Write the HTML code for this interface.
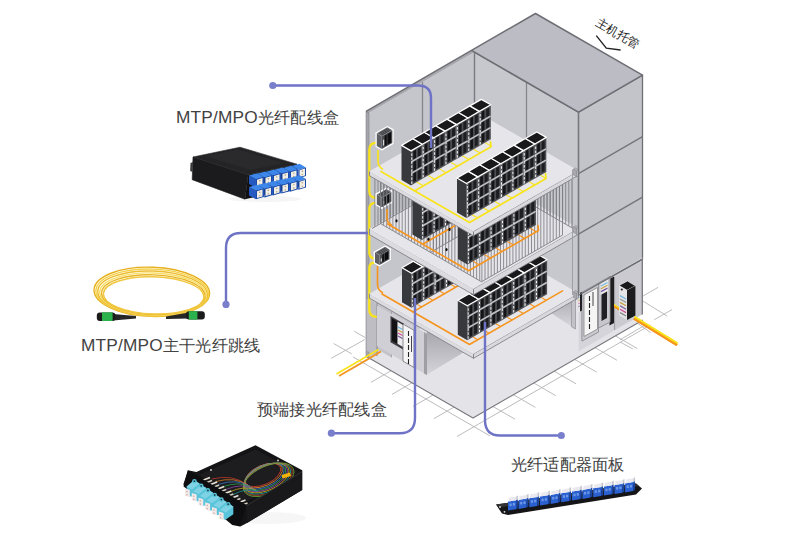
<!DOCTYPE html>
<html><head><meta charset="utf-8"><style>
html,body{margin:0;padding:0;background:#fff;}
body{width:800px;height:550px;position:relative;overflow:hidden;font-family:"Liberation Sans",sans-serif;}
svg{position:absolute;left:0;top:0;}
.lb{position:absolute;font-size:16px;color:#424242;white-space:nowrap;line-height:18px;transform:scaleX(1.015);transform-origin:0 0;}
.lt{font-size:17px;letter-spacing:0.2px;}
.lb2{position:absolute;font-size:12px;color:#1c1c1c;white-space:nowrap;line-height:12px;transform:rotate(30deg);transform-origin:0 0;}
</style></head><body>
<svg width="800" height="550" viewBox="0 0 800 550">
<line x1="353" y1="356.9" x2="490" y2="435.9" stroke="#b4b4b8" stroke-width="0.9" />
<line x1="650.5" y1="324.9" x2="457" y2="436.5" stroke="#b4b4b8" stroke-width="0.9" />
<line x1="370" y1="358.6" x2="350" y2="370.1" stroke="#b4b4b8" stroke-width="0.9" />
<line x1="391" y1="370.7" x2="371" y2="382.3" stroke="#b4b4b8" stroke-width="0.9" />
<line x1="412" y1="382.8" x2="392" y2="394.4" stroke="#b4b4b8" stroke-width="0.9" />
<line x1="433" y1="395" x2="413" y2="406.5" stroke="#b4b4b8" stroke-width="0.9" />
<line x1="454" y1="407.1" x2="434" y2="418.6" stroke="#b4b4b8" stroke-width="0.9" />
<line x1="493" y1="406.5" x2="515" y2="419.2" stroke="#b4b4b8" stroke-width="0.9" />
<line x1="513.4" y1="394.7" x2="535.4" y2="407.4" stroke="#b4b4b8" stroke-width="0.9" />
<line x1="533.8" y1="383" x2="555.8" y2="395.7" stroke="#b4b4b8" stroke-width="0.9" />
<line x1="554.2" y1="371.2" x2="576.2" y2="383.9" stroke="#b4b4b8" stroke-width="0.9" />
<line x1="574.6" y1="359.4" x2="596.6" y2="372.1" stroke="#b4b4b8" stroke-width="0.9" />
<line x1="595" y1="347.6" x2="617" y2="360.3" stroke="#b4b4b8" stroke-width="0.9" />
<line x1="615.4" y1="335.9" x2="637.4" y2="348.6" stroke="#b4b4b8" stroke-width="0.9" />
<line x1="333.7" y1="343.5" x2="351.7" y2="353.9" stroke="#b4b4b8" stroke-width="0.9" />
<line x1="331.3" y1="358.3" x2="364.8" y2="339.5" stroke="#b4b4b8" stroke-width="0.9" />
<line x1="354.2" y1="331.3" x2="365.6" y2="337.8" stroke="#b4b4b8" stroke-width="0.9" />
<line x1="643" y1="296" x2="658" y2="287.4" stroke="#b4b4b8" stroke-width="0.9" />
<line x1="642.5" y1="300.8" x2="667.3" y2="316.2" stroke="#b4b4b8" stroke-width="0.9" />
<line x1="654.3" y1="319.7" x2="672" y2="309.6" stroke="#b4b4b8" stroke-width="0.9" />
<line x1="620" y1="339.8" x2="646" y2="324.5" stroke="#b4b4b8" stroke-width="0.9" />
<line x1="637.7" y1="323.3" x2="650.7" y2="332.7" stroke="#b4b4b8" stroke-width="0.9" />
<line x1="620" y1="342" x2="633" y2="349" stroke="#b4b4b8" stroke-width="0.9" />
<polygon points="535.5,258.5 642.5,320.2 473,418 366,356.3" fill="#e4e4e8" />
<polyline points="366,356.3 473,418 642.5,320.2" fill="none" stroke="#77777d" stroke-width="1.1" stroke-linejoin="round" stroke-linecap="round" />
<polygon points="474.5,297.2 369,358 369,113 474.5,52.2" fill="#c5c5cc" />
<polygon points="366,356.3 369,358 369,113 366,111.3" fill="#a4a4aa" stroke="#85858b" stroke-width="0.6" stroke-linejoin="round" />
<polygon points="471.5,50.4 474.5,52.2 369,113 366,111.3" fill="#a8a8ae" />
<line x1="366" y1="111.3" x2="369" y2="113" stroke="#85858b" stroke-width="1" />
<line x1="366" y1="111.3" x2="471.5" y2="50.4" stroke="#6e6e75" stroke-width="1.5" />
<line x1="422.5" y1="321.2" x2="422.5" y2="82.2" stroke="#85858c" stroke-width="1.3" />
<polygon points="474.5,291.2 578.5,351.2 578.5,112.2 474.5,52.2" fill="#c7c7ce" />
<line x1="474.5" y1="291.2" x2="474.5" y2="52.2" stroke="#7a7a81" stroke-width="1.4" />
<line x1="526.5" y1="321.2" x2="526.5" y2="82.2" stroke="#85858c" stroke-width="1.3" />
<line x1="474.5" y1="52.2" x2="578.5" y2="112.2" stroke="#6e6e75" stroke-width="1.5" />
<polygon points="642.5,259.2 578.5,296.2 578.5,112.2 642.5,75.2" fill="#c3c3ca" stroke="#6e6e75" stroke-width="1.3" stroke-linejoin="round" />
<line x1="642.5" y1="136.7" x2="578.5" y2="173.7" stroke="#75757c" stroke-width="1.4" />
<line x1="642.5" y1="197.2" x2="578.5" y2="234.2" stroke="#75757c" stroke-width="1.4" />
<polygon points="535.5,13.5 642.5,75.2 578.5,112.2 471.5,50.4" fill="#bcbcc4" stroke="#6e6e75" stroke-width="1.5" stroke-linejoin="round" />
<defs><linearGradient id="shd" x1="0" y1="0" x2="0" y2="1"><stop offset="0" stop-color="#a6a6ac"/><stop offset="1" stop-color="#d4d4da"/></linearGradient><linearGradient id="shd2" x1="0" y1="0" x2="0" y2="1"><stop offset="0" stop-color="#b0b0b6"/><stop offset="1" stop-color="#d6d6dc"/></linearGradient></defs>
<polygon points="577.3,295 642.3,257.5 642.3,314.5 577.3,352" fill="#d4d4da" />
<polygon points="614,277 642.3,260 642.3,314 614,330" fill="#cacad0" />
<line x1="642.3" y1="259" x2="642.3" y2="314.5" stroke="#77777d" stroke-width="1.3" />
<line x1="614.5" y1="277" x2="614.5" y2="330" stroke="#a0a0a6" stroke-width="1.2" />
<line x1="609" y1="303" x2="622" y2="311" stroke="#f7941d" stroke-width="2.4" />
<line x1="609" y1="301.5" x2="622" y2="309.5" stroke="#f8e31c" stroke-width="1.4" />
<polygon points="609.5,279 614,276.5 614,323 609.5,325.5" fill="#1e1e20" />
<polygon points="619,285.5 627.5,281 635.4,285.8 627,290.3" fill="#19191b" stroke="#fff" stroke-width="0.6" stroke-linejoin="round" />
<polygon points="619,285.5 627,290.3 627,320 619,315.2" fill="#e4e4e6" />
<polygon points="627,290.3 635.4,285.8 635.4,315.4 627,320" fill="#1c1c1e" />
<line x1="620" y1="295.6" x2="626" y2="299" stroke="#6fb6e0" stroke-width="1.3" />
<line x1="620" y1="299" x2="626" y2="302.4" stroke="#9a9a9a" stroke-width="1.3" />
<line x1="620" y1="302.4" x2="626" y2="305.8" stroke="#c8a040" stroke-width="1.3" />
<line x1="620" y1="305.8" x2="626" y2="309.2" stroke="#7a5aa0" stroke-width="1.3" />
<line x1="620" y1="309.2" x2="626" y2="312.6" stroke="#d05090" stroke-width="1.3" />
<line x1="620" y1="312.6" x2="626" y2="316" stroke="#888" stroke-width="1.3" />
<circle cx="621.8" cy="289.5" r="1.1" fill="#222"/>
<polygon points="598.5,283 610,276.5 610,322 598.5,328" fill="#c6c6cc" stroke="#85858b" stroke-width="0.6" stroke-linejoin="round" />
<polygon points="601.5,284 607,281 607,318 601.5,321" fill="#202024" />
<polygon points="600.5,283.5 608,279.5 608,291 600.5,295" fill="#e8e8ea" />
<line x1="601" y1="286" x2="607.5" y2="282.5" stroke="#6fb6e0" stroke-width="1.2" />
<line x1="601" y1="288.8" x2="607.5" y2="285.3" stroke="#c8a040" stroke-width="1.2" />
<line x1="601" y1="291.6" x2="607.5" y2="288.1" stroke="#7a5aa0" stroke-width="1.2" />
<polygon points="582,292.3 598.5,283 598.5,332 582,341" fill="#c9c9cf" stroke="#85858b" stroke-width="0.6" stroke-linejoin="round" />
<polygon points="584,295 597.5,287.5 597.5,329 584,336.5" fill="#f5f5f5" stroke="#777" stroke-width="0.7" stroke-linejoin="round" />
<line x1="589.5" y1="296" x2="589.5" y2="301" stroke="#222" stroke-width="1.1" />
<line x1="589.5" y1="303" x2="589.5" y2="308" stroke="#222" stroke-width="1.1" />
<line x1="589.5" y1="310" x2="589.5" y2="315" stroke="#222" stroke-width="1.1" />
<line x1="589.5" y1="317" x2="589.5" y2="322" stroke="#222" stroke-width="1.1" />
<line x1="589.5" y1="324" x2="589.5" y2="329" stroke="#222" stroke-width="1.1" />
<line x1="593" y1="292" x2="593" y2="306" stroke="#333" stroke-width="0.9" />
<polygon points="571.5,298 582,292 582,310.5 571.5,316.5" fill="#e6e6e8" />
<polygon points="580,293 582,292 582,310.5 580,311.5" fill="#202024" />
<line x1="572.5" y1="301" x2="579.5" y2="297" stroke="#6fb6e0" stroke-width="1.3" />
<line x1="572.5" y1="304" x2="579.5" y2="300" stroke="#c8a040" stroke-width="1.3" />
<line x1="572.5" y1="307" x2="579.5" y2="303" stroke="#d05090" stroke-width="1.3" />
<line x1="572.5" y1="310" x2="579.5" y2="306" stroke="#7a5aa0" stroke-width="1.3" />
<polygon points="531,324.5 578.5,352 578.5,297" fill="#e4e4e8" />
<polygon points="550.7,312.8 571.5,300.8 571.5,326.5" fill="url(#shd2)" />
<polygon points="571.5,292 575.5,294.3 575.5,329 571.5,326.7" fill="#c2c2c8" stroke="#85858b" stroke-width="0.6" stroke-linejoin="round" />
<line x1="634" y1="318.5" x2="677" y2="345" stroke="#f7941d" stroke-width="2.6" />
<line x1="634.5" y1="316.8" x2="677.5" y2="343.3" stroke="#f8e31c" stroke-width="1.6" />
<line x1="577.3" y1="296" x2="642.3" y2="259.2" stroke="#6e6e75" stroke-width="1.3" />
<polygon points="366.8,299 377,305 377,356 366.8,350.5" fill="#b9b9bf" />
<polygon points="391.5,313 427,333.6 427,375 391.5,354.5" fill="#d3d3d9" />
<polygon points="377,303 391.5,311.4 391.5,357.4 377,349" fill="#c2c2c8" />
<line x1="377" y1="303" x2="377" y2="349" stroke="#8e8e94" stroke-width="1" />
<line x1="391.5" y1="311.4" x2="391.5" y2="357.4" stroke="#9a9aa0" stroke-width="0.8" />
<polygon points="424,332 427,333.6 427,375 424,373.3" fill="#a4a4aa" />
<polygon points="427,331 463,352.5 427,374.5" fill="url(#shd)" />
<polygon points="598.5,283 610,276.5 610,322 598.5,328" fill="#c6c6cc" stroke="#85858b" stroke-width="0.6" stroke-linejoin="round" />
<polygon points="601.5,284 607,281 607,318 601.5,321" fill="#202024" />
<polygon points="600.5,283.5 608,279.5 608,291 600.5,295" fill="#e8e8ea" />
<line x1="601" y1="286" x2="607.5" y2="282.5" stroke="#6fb6e0" stroke-width="1.2" />
<line x1="601" y1="288.8" x2="607.5" y2="285.3" stroke="#c8a040" stroke-width="1.2" />
<line x1="601" y1="291.6" x2="607.5" y2="288.1" stroke="#7a5aa0" stroke-width="1.2" />
<polygon points="582,292.3 598.5,283 598.5,332 582,341" fill="#c9c9cf" stroke="#85858b" stroke-width="0.6" stroke-linejoin="round" />
<polygon points="584,295 597.5,287.5 597.5,329 584,336.5" fill="#f5f5f5" stroke="#777" stroke-width="0.7" stroke-linejoin="round" />
<line x1="589.5" y1="296" x2="589.5" y2="301" stroke="#222" stroke-width="1.1" />
<line x1="589.5" y1="303" x2="589.5" y2="308" stroke="#222" stroke-width="1.1" />
<line x1="589.5" y1="310" x2="589.5" y2="315" stroke="#222" stroke-width="1.1" />
<line x1="589.5" y1="317" x2="589.5" y2="322" stroke="#222" stroke-width="1.1" />
<line x1="589.5" y1="324" x2="589.5" y2="329" stroke="#222" stroke-width="1.1" />
<line x1="593" y1="292" x2="593" y2="306" stroke="#333" stroke-width="0.9" />
<polygon points="571.5,298 582,292 582,310.5 571.5,316.5" fill="#e6e6e8" />
<polygon points="580,293 582,292 582,310.5 580,311.5" fill="#202024" />
<line x1="572.5" y1="301" x2="579.5" y2="297" stroke="#6fb6e0" stroke-width="1.3" />
<line x1="572.5" y1="304" x2="579.5" y2="300" stroke="#c8a040" stroke-width="1.3" />
<line x1="572.5" y1="307" x2="579.5" y2="303" stroke="#d05090" stroke-width="1.3" />
<line x1="572.5" y1="310" x2="579.5" y2="306" stroke="#7a5aa0" stroke-width="1.3" />
<polygon points="531,324.5 578.5,352 578.5,297" fill="#e4e4e8" />
<polygon points="550.7,312.8 571.5,300.8 571.5,326.5" fill="url(#shd2)" />
<polygon points="571.5,292 575.5,294.3 575.5,329 571.5,326.7" fill="#c2c2c8" stroke="#85858b" stroke-width="0.6" stroke-linejoin="round" />
<line x1="634" y1="318.5" x2="677" y2="345" stroke="#f7941d" stroke-width="2.6" />
<line x1="634.5" y1="316.8" x2="677.5" y2="343.3" stroke="#f8e31c" stroke-width="1.6" />
<line x1="577.3" y1="296" x2="642.3" y2="259.2" stroke="#6e6e75" stroke-width="1.3" />
<polygon points="366.8,299 377,305 377,356 366.8,350.5" fill="#bdbdc3" />
<line x1="377" y1="305" x2="377" y2="356" stroke="#8e8e94" stroke-width="1" />
<polygon points="377,305.5 427,334.5 427,375 377,346" fill="#cfcfd5" />
<polygon points="424,332.8 427,334.5 427,375 424,373.3" fill="#9e9ea4" />
<polygon points="427,331 463,352.5 427,374.5" fill="url(#shd)" />
<polygon points="390.5,316 404,323.8 404,350 390.5,342.2" fill="#3a3a3e" />
<polygon points="392,318.5 397.5,321.7 397.5,344 392,340.8" fill="#121214" />
<polygon points="397.5,321.7 403,324.9 403,347 397.5,343.8" fill="#ececee" />
<line x1="398" y1="327" x2="402.5" y2="329.6" stroke="#6fb6e0" stroke-width="1.2" />
<line x1="398" y1="330" x2="402.5" y2="332.6" stroke="#c8a040" stroke-width="1.2" />
<line x1="398" y1="333" x2="402.5" y2="335.6" stroke="#d05090" stroke-width="1.2" />
<line x1="398" y1="336" x2="402.5" y2="338.6" stroke="#7a5aa0" stroke-width="1.2" />
<polygon points="403,324 414,330.3 414,367.5 403,361.2" fill="#f5f5f5" stroke="#707076" stroke-width="0.8" stroke-linejoin="round" />
<line x1="408.5" y1="331" x2="408.5" y2="336" stroke="#222" stroke-width="1.1" />
<line x1="408.5" y1="338" x2="408.5" y2="343" stroke="#222" stroke-width="1.1" />
<line x1="408.5" y1="345" x2="408.5" y2="350" stroke="#222" stroke-width="1.1" />
<line x1="408.5" y1="352" x2="408.5" y2="357" stroke="#222" stroke-width="1.1" />
<line x1="408.5" y1="359" x2="408.5" y2="364" stroke="#222" stroke-width="1.1" />
<line x1="411.5" y1="336" x2="411.5" y2="352" stroke="#333" stroke-width="0.9" />
<line x1="381" y1="351.5" x2="339" y2="376" stroke="#f7941d" stroke-width="1.8" />
<line x1="378.5" y1="349.5" x2="336.5" y2="374" stroke="#f8e31c" stroke-width="1.8" />
<path d="M377,142.7 Q369.3,142.7 369.3,150 V191 Q369.3,198 376.8,198 M376.8,202.7 Q369.3,202.7 369.3,209 V252 Q369.3,258.6 375.5,258.6 M375.5,262.5 Q369.3,262.5 369.3,268 V310 Q369.3,316.8 376.8,316.8" fill="none" stroke="#f8e31c" stroke-width="2.3" />
<polygon points="578.5,297.7 473.5,358.3 473.5,353.8 578.5,293.2" fill="#d9d9dd" stroke="#77777d" stroke-width="0.8" stroke-linejoin="round" />
<polygon points="369.5,298.2 473.5,358.3 473.5,353.8 369.5,293.7" fill="#dcdce0" stroke="#77777d" stroke-width="0.8" stroke-linejoin="round" />
<polygon points="474.5,233.2 578.5,293.2 473.5,353.8 369.5,293.7" fill="#e6e6ea" />
<line x1="369.5" y1="293.7" x2="473.5" y2="353.8" stroke="#f4f4f6" stroke-width="0.8" />
<polygon points="389.5,259.2 379.5,265 379.5,255.2 389.5,249.4" fill="#ffffff" stroke="#ffffff" stroke-width="2.6" stroke-linejoin="round" />
<polygon points="375,262.4 379.5,265 379.5,255.2 375,252.6" fill="#ffffff" stroke="#ffffff" stroke-width="2.6" stroke-linejoin="round" />
<polygon points="385,246.8 389.5,249.4 379.5,255.2 375,252.6" fill="#ffffff" stroke="#ffffff" stroke-width="2.6" stroke-linejoin="round" />
<polygon points="389.5,259.2 379.5,265 379.5,255.2 389.5,249.4" fill="#4d4e53" />
<polygon points="375,262.4 379.5,265 379.5,255.2 375,252.6" fill="#5d5e63" />
<polygon points="385,246.8 389.5,249.4 379.5,255.2 375,252.6" fill="#6e6f74" />
<line x1="385.3" y1="248.1" x2="377.3" y2="252.7" stroke="#2a2a2e" stroke-width="0.7" />
<line x1="386.7" y1="248.9" x2="378.7" y2="253.6" stroke="#2a2a2e" stroke-width="0.7" />
<line x1="388.1" y1="249.7" x2="380.1" y2="254.4" stroke="#2a2a2e" stroke-width="0.7" />
<polygon points="388.3,258.7 384.7,260.8 384.7,253.4 388.3,251.3" fill="#0c0c0e" />
<polygon points="383.9,261.2 382.3,262.2 382.3,254.8 383.9,253.8" fill="#0c0c0e" />
<line x1="381.3" y1="261.4" x2="381.3" y2="258.6" stroke="#e0e0e0" stroke-width="1.1" />
<path d="M377.5,266 V284 Q377.5,290 383,293" fill="none" stroke="#f7941d" stroke-width="1.6" />
<polyline points="382,294 469.5,344.5 562.5,290.9" fill="none" stroke="#f7941d" stroke-width="1.6" stroke-linejoin="round" stroke-linecap="round" />
<polyline points="413,311.9 466,281.3" fill="none" stroke="#f7941d" stroke-width="1.6" stroke-linejoin="round" stroke-linecap="round" />
<line x1="417.2" y1="304.4" x2="421.6" y2="307" stroke="#f7941d" stroke-width="1.1" />
<line x1="428.6" y1="297.8" x2="433" y2="300.4" stroke="#f7941d" stroke-width="1.1" />
<line x1="440" y1="291.3" x2="444.4" y2="293.8" stroke="#f7941d" stroke-width="1.1" />
<line x1="451.4" y1="284.7" x2="455.8" y2="287.2" stroke="#f7941d" stroke-width="1.1" />
<line x1="473" y1="337" x2="477.8" y2="339.7" stroke="#f7941d" stroke-width="1.1" />
<line x1="484.4" y1="330.4" x2="489.2" y2="333.2" stroke="#f7941d" stroke-width="1.1" />
<line x1="495.8" y1="323.8" x2="500.6" y2="326.6" stroke="#f7941d" stroke-width="1.1" />
<line x1="507.2" y1="317.2" x2="512" y2="320" stroke="#f7941d" stroke-width="1.1" />
<line x1="518.6" y1="310.7" x2="523.4" y2="313.4" stroke="#f7941d" stroke-width="1.1" />
<line x1="530" y1="304.1" x2="534.8" y2="306.8" stroke="#f7941d" stroke-width="1.1" />
<line x1="541.4" y1="297.5" x2="546.2" y2="300.3" stroke="#f7941d" stroke-width="1.1" />
<polygon points="422.9,301.1 411.5,307.7 411.5,273.2 422.9,266.6" fill="#4c4d52" />
<polygon points="416.5,303.1 413.8,304.7 413.8,295.7 416.5,294.1" fill="#151518" />
<polygon points="421.3,300.3 418.3,302 418.3,293.1 421.3,291.4" fill="#1e1e21" />
<polygon points="416.5,291.7 413.8,293.3 413.8,284.3 416.5,282.7" fill="#151518" />
<polygon points="421.3,288.9 418.3,290.7 418.3,281.7 421.3,280" fill="#1e1e21" />
<polygon points="416.5,280.3 413.8,281.9 413.8,273.6 416.5,272" fill="#151518" />
<polygon points="421.3,277.6 418.3,279.3 418.3,271 421.3,269.3" fill="#1e1e21" />
<line x1="422.6" y1="289.4" x2="411.8" y2="295.6" stroke="#c2c3c8" stroke-width="1.5" />
<line x1="422.6" y1="278" x2="411.8" y2="284.2" stroke="#c2c3c8" stroke-width="1.5" />
<line x1="412.3" y1="306.2" x2="412.3" y2="273.7" stroke="#f6f6f6" stroke-width="1.0" stroke-dasharray="2.5,1.5"/>
<polygon points="402,302.2 411.5,307.7 411.5,273.2 402,267.7" fill="#38393d" />
<polygon points="413.4,261.1 422.9,266.6 411.5,273.2 402,267.7" fill="#19191b" stroke="#ffffff" stroke-width="1.3" stroke-linejoin="round" />
<polygon points="434.3,294.6 422.9,301.1 422.9,266.6 434.3,260.1" fill="#4c4d52" />
<polygon points="427.9,296.5 425.2,298.1 425.2,289.1 427.9,287.5" fill="#151518" />
<polygon points="432.7,293.7 429.7,295.5 429.7,286.5 432.7,284.8" fill="#1e1e21" />
<polygon points="427.9,285.1 425.2,286.7 425.2,277.7 427.9,276.2" fill="#151518" />
<polygon points="432.7,282.4 429.7,284.1 429.7,275.1 432.7,273.4" fill="#1e1e21" />
<polygon points="427.9,273.7 425.2,275.3 425.2,267 427.9,265.5" fill="#151518" />
<polygon points="432.7,271 429.7,272.7 429.7,264.4 432.7,262.7" fill="#1e1e21" />
<line x1="434" y1="282.8" x2="423.2" y2="289.1" stroke="#c2c3c8" stroke-width="1.5" />
<line x1="434" y1="271.4" x2="423.2" y2="277.7" stroke="#c2c3c8" stroke-width="1.5" />
<line x1="423.7" y1="299.7" x2="423.7" y2="267.2" stroke="#f6f6f6" stroke-width="1.0" stroke-dasharray="2.5,1.5"/>
<polygon points="424.8,254.6 434.3,260.1 422.9,266.6 413.4,261.1" fill="#19191b" stroke="#ffffff" stroke-width="1.3" stroke-linejoin="round" />
<polygon points="445.7,288 434.3,294.6 434.3,260.1 445.7,253.5" fill="#4c4d52" />
<polygon points="439.3,289.9 436.6,291.5 436.6,282.5 439.3,281" fill="#151518" />
<polygon points="444.1,287.2 441.1,288.9 441.1,279.9 444.1,278.2" fill="#1e1e21" />
<polygon points="439.3,278.5 436.6,280.1 436.6,271.2 439.3,269.6" fill="#151518" />
<polygon points="444.1,275.8 441.1,277.5 441.1,268.5 444.1,266.8" fill="#1e1e21" />
<polygon points="439.3,267.2 436.6,268.7 436.6,260.5 439.3,258.9" fill="#151518" />
<polygon points="444.1,264.4 441.1,266.1 441.1,257.8 444.1,256.1" fill="#1e1e21" />
<line x1="445.4" y1="276.2" x2="434.6" y2="282.5" stroke="#c2c3c8" stroke-width="1.5" />
<line x1="445.4" y1="264.9" x2="434.6" y2="271.1" stroke="#c2c3c8" stroke-width="1.5" />
<line x1="435.1" y1="293.1" x2="435.1" y2="260.6" stroke="#f6f6f6" stroke-width="1.0" stroke-dasharray="2.5,1.5"/>
<polygon points="436.2,248 445.7,253.5 434.3,260.1 424.8,254.6" fill="#19191b" stroke="#ffffff" stroke-width="1.3" stroke-linejoin="round" />
<polygon points="457.1,281.4 445.7,288 445.7,253.5 457.1,246.9" fill="#4c4d52" />
<polygon points="450.7,283.4 448,284.9 448,276 450.7,274.4" fill="#151518" />
<polygon points="455.5,280.6 452.5,282.3 452.5,273.3 455.5,271.6" fill="#1e1e21" />
<polygon points="450.7,272 448,273.5 448,264.6 450.7,263" fill="#151518" />
<polygon points="455.5,269.2 452.5,270.9 452.5,261.9 455.5,260.2" fill="#1e1e21" />
<polygon points="450.7,260.6 448,262.2 448,253.9 450.7,252.3" fill="#151518" />
<polygon points="455.5,257.8 452.5,259.5 452.5,251.3 455.5,249.5" fill="#1e1e21" />
<line x1="456.8" y1="269.7" x2="446" y2="275.9" stroke="#c2c3c8" stroke-width="1.5" />
<line x1="456.8" y1="258.3" x2="446" y2="264.5" stroke="#c2c3c8" stroke-width="1.5" />
<line x1="446.5" y1="286.5" x2="446.5" y2="254" stroke="#f6f6f6" stroke-width="1.0" stroke-dasharray="2.5,1.5"/>
<polygon points="447.6,241.4 457.1,246.9 445.7,253.5 436.2,248" fill="#19191b" stroke="#ffffff" stroke-width="1.3" stroke-linejoin="round" />
<polygon points="478.7,333.7 467.3,340.3 467.3,305.8 478.7,299.2" fill="#4c4d52" />
<polygon points="472.3,335.6 469.6,337.2 469.6,328.2 472.3,326.7" fill="#151518" />
<polygon points="477.1,332.9 474.1,334.6 474.1,325.6 477.1,323.9" fill="#1e1e21" />
<polygon points="472.3,324.2 469.6,325.8 469.6,316.9 472.3,315.3" fill="#151518" />
<polygon points="477.1,321.5 474.1,323.2 474.1,314.2 477.1,312.5" fill="#1e1e21" />
<polygon points="472.3,312.9 469.6,314.4 469.6,306.2 472.3,304.6" fill="#151518" />
<polygon points="477.1,310.1 474.1,311.8 474.1,303.5 477.1,301.8" fill="#1e1e21" />
<line x1="478.4" y1="321.9" x2="467.6" y2="328.2" stroke="#c2c3c8" stroke-width="1.5" />
<line x1="478.4" y1="310.6" x2="467.6" y2="316.8" stroke="#c2c3c8" stroke-width="1.5" />
<line x1="468.1" y1="338.8" x2="468.1" y2="306.3" stroke="#f6f6f6" stroke-width="1.0" stroke-dasharray="2.5,1.5"/>
<polygon points="457.8,334.8 467.3,340.3 467.3,305.8 457.8,300.3" fill="#38393d" />
<polygon points="469.2,293.7 478.7,299.2 467.3,305.8 457.8,300.3" fill="#19191b" stroke="#ffffff" stroke-width="1.3" stroke-linejoin="round" />
<polygon points="490.1,327.1 478.7,333.7 478.7,299.2 490.1,292.6" fill="#4c4d52" />
<polygon points="483.7,329.1 481,330.6 481,321.7 483.7,320.1" fill="#151518" />
<polygon points="488.5,326.3 485.5,328 485.5,319 488.5,317.3" fill="#1e1e21" />
<polygon points="483.7,317.7 481,319.2 481,310.3 483.7,308.7" fill="#151518" />
<polygon points="488.5,314.9 485.5,316.6 485.5,307.6 488.5,305.9" fill="#1e1e21" />
<polygon points="483.7,306.3 481,307.9 481,299.6 483.7,298" fill="#151518" />
<polygon points="488.5,303.5 485.5,305.2 485.5,297 488.5,295.2" fill="#1e1e21" />
<line x1="489.8" y1="315.4" x2="479" y2="321.6" stroke="#c2c3c8" stroke-width="1.5" />
<line x1="489.8" y1="304" x2="479" y2="310.2" stroke="#c2c3c8" stroke-width="1.5" />
<line x1="479.5" y1="332.2" x2="479.5" y2="299.7" stroke="#f6f6f6" stroke-width="1.0" stroke-dasharray="2.5,1.5"/>
<polygon points="480.6,287.1 490.1,292.6 478.7,299.2 469.2,293.7" fill="#19191b" stroke="#ffffff" stroke-width="1.3" stroke-linejoin="round" />
<polygon points="501.5,320.5 490.1,327.1 490.1,292.6 501.5,286" fill="#4c4d52" />
<polygon points="495.1,322.5 492.4,324.1 492.4,315.1 495.1,313.5" fill="#151518" />
<polygon points="499.9,319.7 496.9,321.4 496.9,312.5 499.9,310.7" fill="#1e1e21" />
<polygon points="495.1,311.1 492.4,312.7 492.4,303.7 495.1,302.1" fill="#151518" />
<polygon points="499.9,308.3 496.9,310 496.9,301.1 499.9,299.4" fill="#1e1e21" />
<polygon points="495.1,299.7 492.4,301.3 492.4,293 495.1,291.4" fill="#151518" />
<polygon points="499.9,296.9 496.9,298.7 496.9,290.4 499.9,288.7" fill="#1e1e21" />
<line x1="501.2" y1="308.8" x2="490.4" y2="315" stroke="#c2c3c8" stroke-width="1.5" />
<line x1="501.2" y1="297.4" x2="490.4" y2="303.6" stroke="#c2c3c8" stroke-width="1.5" />
<line x1="490.9" y1="325.6" x2="490.9" y2="293.1" stroke="#f6f6f6" stroke-width="1.0" stroke-dasharray="2.5,1.5"/>
<polygon points="492,280.5 501.5,286 490.1,292.6 480.6,287.1" fill="#19191b" stroke="#ffffff" stroke-width="1.3" stroke-linejoin="round" />
<polygon points="512.9,313.9 501.5,320.5 501.5,286 512.9,279.4" fill="#4c4d52" />
<polygon points="506.5,315.9 503.8,317.5 503.8,308.5 506.5,306.9" fill="#151518" />
<polygon points="511.3,313.1 508.3,314.8 508.3,305.9 511.3,304.2" fill="#1e1e21" />
<polygon points="506.5,304.5 503.8,306.1 503.8,297.1 506.5,295.5" fill="#151518" />
<polygon points="511.3,301.7 508.3,303.5 508.3,294.5 511.3,292.8" fill="#1e1e21" />
<polygon points="506.5,293.1 503.8,294.7 503.8,286.4 506.5,284.8" fill="#151518" />
<polygon points="511.3,290.4 508.3,292.1 508.3,283.8 511.3,282.1" fill="#1e1e21" />
<line x1="512.6" y1="302.2" x2="501.8" y2="308.4" stroke="#c2c3c8" stroke-width="1.5" />
<line x1="512.6" y1="290.8" x2="501.8" y2="297.1" stroke="#c2c3c8" stroke-width="1.5" />
<line x1="502.3" y1="319.1" x2="502.3" y2="286.6" stroke="#f6f6f6" stroke-width="1.0" stroke-dasharray="2.5,1.5"/>
<polygon points="503.4,274 512.9,279.4 501.5,286 492,280.5" fill="#19191b" stroke="#ffffff" stroke-width="1.3" stroke-linejoin="round" />
<polygon points="524.3,307.4 512.9,313.9 512.9,279.4 524.3,272.9" fill="#4c4d52" />
<polygon points="517.9,309.3 515.2,310.9 515.2,301.9 517.9,300.3" fill="#151518" />
<polygon points="522.7,306.6 519.7,308.3 519.7,299.3 522.7,297.6" fill="#1e1e21" />
<polygon points="517.9,297.9 515.2,299.5 515.2,290.5 517.9,289" fill="#151518" />
<polygon points="522.7,295.2 519.7,296.9 519.7,287.9 522.7,286.2" fill="#1e1e21" />
<polygon points="517.9,286.5 515.2,288.1 515.2,279.8 517.9,278.3" fill="#151518" />
<polygon points="522.7,283.8 519.7,285.5 519.7,277.2 522.7,275.5" fill="#1e1e21" />
<line x1="524" y1="295.6" x2="513.2" y2="301.9" stroke="#c2c3c8" stroke-width="1.5" />
<line x1="524" y1="284.2" x2="513.2" y2="290.5" stroke="#c2c3c8" stroke-width="1.5" />
<line x1="513.7" y1="312.5" x2="513.7" y2="280" stroke="#f6f6f6" stroke-width="1.0" stroke-dasharray="2.5,1.5"/>
<polygon points="514.8,267.4 524.3,272.9 512.9,279.4 503.4,274" fill="#19191b" stroke="#ffffff" stroke-width="1.3" stroke-linejoin="round" />
<polygon points="535.7,300.8 524.3,307.4 524.3,272.9 535.7,266.3" fill="#4c4d52" />
<polygon points="529.3,302.7 526.6,304.3 526.6,295.4 529.3,293.8" fill="#151518" />
<polygon points="534.1,300 531.1,301.7 531.1,292.7 534.1,291" fill="#1e1e21" />
<polygon points="529.3,291.4 526.6,292.9 526.6,284 529.3,282.4" fill="#151518" />
<polygon points="534.1,288.6 531.1,290.3 531.1,281.3 534.1,279.6" fill="#1e1e21" />
<polygon points="529.3,280 526.6,281.6 526.6,273.3 529.3,271.7" fill="#151518" />
<polygon points="534.1,277.2 531.1,278.9 531.1,270.6 534.1,268.9" fill="#1e1e21" />
<line x1="535.4" y1="289.1" x2="524.6" y2="295.3" stroke="#c2c3c8" stroke-width="1.5" />
<line x1="535.4" y1="277.7" x2="524.6" y2="283.9" stroke="#c2c3c8" stroke-width="1.5" />
<line x1="525.1" y1="305.9" x2="525.1" y2="273.4" stroke="#f6f6f6" stroke-width="1.0" stroke-dasharray="2.5,1.5"/>
<polygon points="526.2,260.8 535.7,266.3 524.3,272.9 514.8,267.4" fill="#19191b" stroke="#ffffff" stroke-width="1.3" stroke-linejoin="round" />
<polygon points="547.1,294.2 535.7,300.8 535.7,266.3 547.1,259.7" fill="#4c4d52" />
<polygon points="540.7,296.2 538,297.7 538,288.8 540.7,287.2" fill="#151518" />
<polygon points="545.5,293.4 542.5,295.1 542.5,286.1 545.5,284.4" fill="#1e1e21" />
<polygon points="540.7,284.8 538,286.4 538,277.4 540.7,275.8" fill="#151518" />
<polygon points="545.5,282 542.5,283.7 542.5,274.8 545.5,273" fill="#1e1e21" />
<polygon points="540.7,273.4 538,275 538,266.7 540.7,265.1" fill="#151518" />
<polygon points="545.5,270.6 542.5,272.3 542.5,264.1 545.5,262.4" fill="#1e1e21" />
<line x1="546.8" y1="282.5" x2="536" y2="288.7" stroke="#c2c3c8" stroke-width="1.5" />
<line x1="546.8" y1="271.1" x2="536" y2="277.3" stroke="#c2c3c8" stroke-width="1.5" />
<line x1="536.5" y1="299.3" x2="536.5" y2="266.8" stroke="#f6f6f6" stroke-width="1.0" stroke-dasharray="2.5,1.5"/>
<polygon points="537.6,254.2 547.1,259.7 535.7,266.3 526.2,260.8" fill="#19191b" stroke="#ffffff" stroke-width="1.3" stroke-linejoin="round" />
<polygon points="578.5,234.2 473.5,294.8 473.5,288.8 578.5,228.2" fill="#d9d9dd" stroke="#77777d" stroke-width="0.8" stroke-linejoin="round" />
<polygon points="369.5,234.7 473.5,294.8 473.5,288.8 369.5,228.7" fill="#dcdce0" stroke="#77777d" stroke-width="0.8" stroke-linejoin="round" />
<polygon points="474.5,168.2 578.5,228.2 473.5,288.8 369.5,228.7" fill="#e6e6ea" />
<line x1="369.5" y1="228.7" x2="473.5" y2="288.8" stroke="#f4f4f6" stroke-width="0.8" />
<line x1="455.5" y1="180.3" x2="455.5" y2="125.8" stroke="#7c7c82" stroke-width="0.85" />
<line x1="452.4" y1="182.1" x2="452.4" y2="127.6" stroke="#7c7c82" stroke-width="0.85" />
<line x1="449.3" y1="183.9" x2="449.3" y2="129.4" stroke="#7c7c82" stroke-width="0.85" />
<line x1="446.2" y1="185.6" x2="446.2" y2="131.1" stroke="#7c7c82" stroke-width="0.85" />
<line x1="443.1" y1="187.4" x2="443.1" y2="132.9" stroke="#7c7c82" stroke-width="0.85" />
<line x1="440" y1="189.2" x2="440" y2="134.7" stroke="#7c7c82" stroke-width="0.85" />
<line x1="436.9" y1="191" x2="436.9" y2="136.5" stroke="#7c7c82" stroke-width="0.85" />
<line x1="433.8" y1="192.8" x2="433.8" y2="138.3" stroke="#7c7c82" stroke-width="0.85" />
<line x1="430.7" y1="194.6" x2="430.7" y2="140.1" stroke="#7c7c82" stroke-width="0.85" />
<line x1="427.6" y1="196.4" x2="427.6" y2="141.9" stroke="#7c7c82" stroke-width="0.85" />
<line x1="424.5" y1="198.2" x2="424.5" y2="143.7" stroke="#7c7c82" stroke-width="0.85" />
<line x1="421.4" y1="200" x2="421.4" y2="145.5" stroke="#7c7c82" stroke-width="0.85" />
<line x1="418.3" y1="201.7" x2="418.3" y2="147.2" stroke="#7c7c82" stroke-width="0.85" />
<line x1="415.2" y1="203.5" x2="415.2" y2="149" stroke="#7c7c82" stroke-width="0.85" />
<line x1="412.1" y1="205.3" x2="412.1" y2="150.8" stroke="#7c7c82" stroke-width="0.85" />
<line x1="409" y1="207.1" x2="409" y2="152.6" stroke="#7c7c82" stroke-width="0.85" />
<line x1="405.9" y1="208.9" x2="405.9" y2="154.4" stroke="#7c7c82" stroke-width="0.85" />
<line x1="402.8" y1="210.7" x2="402.8" y2="156.2" stroke="#7c7c82" stroke-width="0.85" />
<line x1="399.7" y1="212.5" x2="399.7" y2="158" stroke="#7c7c82" stroke-width="0.85" />
<line x1="396.6" y1="214.3" x2="396.6" y2="159.8" stroke="#7c7c82" stroke-width="0.85" />
<line x1="393.5" y1="216.1" x2="393.5" y2="161.6" stroke="#7c7c82" stroke-width="0.85" />
<line x1="390.4" y1="217.8" x2="390.4" y2="163.3" stroke="#7c7c82" stroke-width="0.85" />
<line x1="387.3" y1="219.6" x2="387.3" y2="165.1" stroke="#7c7c82" stroke-width="0.85" />
<line x1="384.2" y1="221.4" x2="384.2" y2="166.9" stroke="#7c7c82" stroke-width="0.85" />
<line x1="381.1" y1="223.2" x2="381.1" y2="168.7" stroke="#7c7c82" stroke-width="0.85" />
<line x1="378" y1="225" x2="378" y2="170.5" stroke="#7c7c82" stroke-width="0.85" />
<line x1="374.9" y1="226.8" x2="374.9" y2="172.3" stroke="#7c7c82" stroke-width="0.85" />
<line x1="455.5" y1="125.8" x2="372" y2="174" stroke="#88888e" stroke-width="1.0" />
<line x1="455.5" y1="180.3" x2="372" y2="228.5" stroke="#88888e" stroke-width="1.0" />
<polygon points="391.4,201.8 381.8,207.3 381.8,197.4 391.4,191.9" fill="#ffffff" stroke="#ffffff" stroke-width="2.6" stroke-linejoin="round" />
<polygon points="376.8,204.4 381.8,207.3 381.8,197.4 376.8,194.5" fill="#ffffff" stroke="#ffffff" stroke-width="2.6" stroke-linejoin="round" />
<polygon points="386.4,189 391.4,191.9 381.8,197.4 376.8,194.5" fill="#ffffff" stroke="#ffffff" stroke-width="2.6" stroke-linejoin="round" />
<polygon points="391.4,201.8 381.8,207.3 381.8,197.4 391.4,191.9" fill="#4d4e53" />
<polygon points="376.8,204.4 381.8,207.3 381.8,197.4 376.8,194.5" fill="#5d5e63" />
<polygon points="386.4,189 391.4,191.9 381.8,197.4 376.8,194.5" fill="#6e6f74" />
<line x1="386.7" y1="190.3" x2="379.1" y2="194.7" stroke="#2a2a2e" stroke-width="0.7" />
<line x1="388.1" y1="191.1" x2="380.5" y2="195.5" stroke="#2a2a2e" stroke-width="0.7" />
<line x1="389.5" y1="191.9" x2="381.9" y2="196.3" stroke="#2a2a2e" stroke-width="0.7" />
<polygon points="390.2,201.3 386.6,203.3 386.6,195.8 390.2,193.8" fill="#0c0c0e" />
<polygon points="385.8,203.8 384.6,204.5 384.6,197 385.8,196.3" fill="#0c0c0e" />
<line x1="383.6" y1="203.8" x2="383.6" y2="200.9" stroke="#e0e0e0" stroke-width="1.1" />
<line x1="495.5" y1="214.9" x2="495.5" y2="160.4" stroke="#7c7c82" stroke-width="0.85" />
<line x1="492.4" y1="216.7" x2="492.4" y2="162.2" stroke="#7c7c82" stroke-width="0.85" />
<line x1="489.3" y1="218.5" x2="489.3" y2="164" stroke="#7c7c82" stroke-width="0.85" />
<line x1="486.2" y1="220.3" x2="486.2" y2="165.8" stroke="#7c7c82" stroke-width="0.85" />
<line x1="483.1" y1="222.1" x2="483.1" y2="167.6" stroke="#7c7c82" stroke-width="0.85" />
<line x1="480" y1="223.8" x2="480" y2="169.3" stroke="#7c7c82" stroke-width="0.85" />
<line x1="476.9" y1="225.6" x2="476.9" y2="171.1" stroke="#7c7c82" stroke-width="0.85" />
<line x1="473.8" y1="227.4" x2="473.8" y2="172.9" stroke="#7c7c82" stroke-width="0.85" />
<line x1="470.7" y1="229.2" x2="470.7" y2="174.7" stroke="#7c7c82" stroke-width="0.85" />
<line x1="467.6" y1="231" x2="467.6" y2="176.5" stroke="#7c7c82" stroke-width="0.85" />
<line x1="464.5" y1="232.8" x2="464.5" y2="178.3" stroke="#7c7c82" stroke-width="0.85" />
<line x1="461.4" y1="234.6" x2="461.4" y2="180.1" stroke="#7c7c82" stroke-width="0.85" />
<line x1="458.3" y1="236.4" x2="458.3" y2="181.9" stroke="#7c7c82" stroke-width="0.85" />
<line x1="455.2" y1="238.1" x2="455.2" y2="183.6" stroke="#7c7c82" stroke-width="0.85" />
<line x1="452.1" y1="239.9" x2="452.1" y2="185.4" stroke="#7c7c82" stroke-width="0.85" />
<line x1="449" y1="241.7" x2="449" y2="187.2" stroke="#7c7c82" stroke-width="0.85" />
<line x1="445.9" y1="243.5" x2="445.9" y2="189" stroke="#7c7c82" stroke-width="0.85" />
<line x1="442.8" y1="245.3" x2="442.8" y2="190.8" stroke="#7c7c82" stroke-width="0.85" />
<line x1="439.7" y1="247.1" x2="439.7" y2="192.6" stroke="#7c7c82" stroke-width="0.85" />
<line x1="436.6" y1="248.9" x2="436.6" y2="194.4" stroke="#7c7c82" stroke-width="0.85" />
<line x1="433.5" y1="250.7" x2="433.5" y2="196.2" stroke="#7c7c82" stroke-width="0.85" />
<line x1="495.5" y1="160.4" x2="430.5" y2="197.9" stroke="#88888e" stroke-width="1.0" />
<line x1="495.5" y1="214.9" x2="430.5" y2="252.4" stroke="#88888e" stroke-width="1.0" />
<line x1="380.5" y1="223.6" x2="380.5" y2="169.1" stroke="#7c7c82" stroke-width="0.85" />
<line x1="383.6" y1="225.3" x2="383.6" y2="170.8" stroke="#7c7c82" stroke-width="0.85" />
<line x1="386.7" y1="227.1" x2="386.7" y2="172.6" stroke="#7c7c82" stroke-width="0.85" />
<line x1="389.8" y1="228.9" x2="389.8" y2="174.4" stroke="#7c7c82" stroke-width="0.85" />
<line x1="392.9" y1="230.7" x2="392.9" y2="176.2" stroke="#7c7c82" stroke-width="0.85" />
<line x1="396" y1="232.5" x2="396" y2="178" stroke="#7c7c82" stroke-width="0.85" />
<line x1="399.1" y1="234.3" x2="399.1" y2="179.8" stroke="#7c7c82" stroke-width="0.85" />
<line x1="402.2" y1="236.1" x2="402.2" y2="181.6" stroke="#7c7c82" stroke-width="0.85" />
<line x1="405.3" y1="237.9" x2="405.3" y2="183.4" stroke="#7c7c82" stroke-width="0.85" />
<line x1="408.4" y1="239.6" x2="408.4" y2="185.1" stroke="#7c7c82" stroke-width="0.85" />
<line x1="411.5" y1="241.4" x2="411.5" y2="186.9" stroke="#7c7c82" stroke-width="0.85" />
<line x1="414.6" y1="243.2" x2="414.6" y2="188.7" stroke="#7c7c82" stroke-width="0.85" />
<line x1="417.7" y1="245" x2="417.7" y2="190.5" stroke="#7c7c82" stroke-width="0.85" />
<line x1="420.8" y1="246.8" x2="420.8" y2="192.3" stroke="#7c7c82" stroke-width="0.85" />
<line x1="423.9" y1="248.6" x2="423.9" y2="194.1" stroke="#7c7c82" stroke-width="0.85" />
<line x1="427" y1="250.4" x2="427" y2="195.9" stroke="#7c7c82" stroke-width="0.85" />
<line x1="430.1" y1="252.2" x2="430.1" y2="197.7" stroke="#7c7c82" stroke-width="0.85" />
<line x1="433.2" y1="254" x2="433.2" y2="199.5" stroke="#7c7c82" stroke-width="0.85" />
<line x1="436.3" y1="255.7" x2="436.3" y2="201.2" stroke="#7c7c82" stroke-width="0.85" />
<line x1="439.4" y1="257.5" x2="439.4" y2="203" stroke="#7c7c82" stroke-width="0.85" />
<line x1="442.5" y1="259.3" x2="442.5" y2="204.8" stroke="#7c7c82" stroke-width="0.85" />
<line x1="445.6" y1="261.1" x2="445.6" y2="206.6" stroke="#7c7c82" stroke-width="0.85" />
<line x1="448.7" y1="262.9" x2="448.7" y2="208.4" stroke="#7c7c82" stroke-width="0.85" />
<line x1="451.8" y1="264.7" x2="451.8" y2="210.2" stroke="#7c7c82" stroke-width="0.85" />
<line x1="454.9" y1="266.5" x2="454.9" y2="212" stroke="#7c7c82" stroke-width="0.85" />
<line x1="458" y1="268.3" x2="458" y2="213.8" stroke="#7c7c82" stroke-width="0.85" />
<line x1="461.1" y1="270.1" x2="461.1" y2="215.6" stroke="#7c7c82" stroke-width="0.85" />
<line x1="464.2" y1="271.8" x2="464.2" y2="217.3" stroke="#7c7c82" stroke-width="0.85" />
<line x1="467.3" y1="273.6" x2="467.3" y2="219.1" stroke="#7c7c82" stroke-width="0.85" />
<line x1="470.4" y1="275.4" x2="470.4" y2="220.9" stroke="#7c7c82" stroke-width="0.85" />
<line x1="473.5" y1="277.2" x2="473.5" y2="222.7" stroke="#7c7c82" stroke-width="0.85" />
<line x1="476.6" y1="279" x2="476.6" y2="224.5" stroke="#7c7c82" stroke-width="0.85" />
<line x1="479.7" y1="280.8" x2="479.7" y2="226.3" stroke="#7c7c82" stroke-width="0.85" />
<line x1="380.5" y1="169.1" x2="481.5" y2="227.3" stroke="#88888e" stroke-width="1.0" />
<line x1="380.5" y1="223.6" x2="481.5" y2="281.8" stroke="#88888e" stroke-width="1.0" />
<line x1="562.5" y1="235.1" x2="562.5" y2="180.6" stroke="#7c7c82" stroke-width="0.85" />
<line x1="559.4" y1="236.9" x2="559.4" y2="182.4" stroke="#7c7c82" stroke-width="0.85" />
<line x1="556.3" y1="238.7" x2="556.3" y2="184.2" stroke="#7c7c82" stroke-width="0.85" />
<line x1="553.2" y1="240.5" x2="553.2" y2="186" stroke="#7c7c82" stroke-width="0.85" />
<line x1="550.1" y1="242.2" x2="550.1" y2="187.7" stroke="#7c7c82" stroke-width="0.85" />
<line x1="547" y1="244" x2="547" y2="189.5" stroke="#7c7c82" stroke-width="0.85" />
<line x1="543.9" y1="245.8" x2="543.9" y2="191.3" stroke="#7c7c82" stroke-width="0.85" />
<line x1="540.8" y1="247.6" x2="540.8" y2="193.1" stroke="#7c7c82" stroke-width="0.85" />
<line x1="537.7" y1="249.4" x2="537.7" y2="194.9" stroke="#7c7c82" stroke-width="0.85" />
<line x1="534.6" y1="251.2" x2="534.6" y2="196.7" stroke="#7c7c82" stroke-width="0.85" />
<line x1="531.5" y1="253" x2="531.5" y2="198.5" stroke="#7c7c82" stroke-width="0.85" />
<line x1="528.4" y1="254.8" x2="528.4" y2="200.3" stroke="#7c7c82" stroke-width="0.85" />
<line x1="525.3" y1="256.6" x2="525.3" y2="202.1" stroke="#7c7c82" stroke-width="0.85" />
<line x1="522.2" y1="258.3" x2="522.2" y2="203.8" stroke="#7c7c82" stroke-width="0.85" />
<line x1="519.1" y1="260.1" x2="519.1" y2="205.6" stroke="#7c7c82" stroke-width="0.85" />
<line x1="516" y1="261.9" x2="516" y2="207.4" stroke="#7c7c82" stroke-width="0.85" />
<line x1="512.9" y1="263.7" x2="512.9" y2="209.2" stroke="#7c7c82" stroke-width="0.85" />
<line x1="509.8" y1="265.5" x2="509.8" y2="211" stroke="#7c7c82" stroke-width="0.85" />
<line x1="506.7" y1="267.3" x2="506.7" y2="212.8" stroke="#7c7c82" stroke-width="0.85" />
<line x1="503.6" y1="269.1" x2="503.6" y2="214.6" stroke="#7c7c82" stroke-width="0.85" />
<line x1="500.5" y1="270.9" x2="500.5" y2="216.4" stroke="#7c7c82" stroke-width="0.85" />
<line x1="497.4" y1="272.7" x2="497.4" y2="218.2" stroke="#7c7c82" stroke-width="0.85" />
<line x1="494.3" y1="274.4" x2="494.3" y2="219.9" stroke="#7c7c82" stroke-width="0.85" />
<line x1="491.2" y1="276.2" x2="491.2" y2="221.7" stroke="#7c7c82" stroke-width="0.85" />
<line x1="488.1" y1="278" x2="488.1" y2="223.5" stroke="#7c7c82" stroke-width="0.85" />
<line x1="485" y1="279.8" x2="485" y2="225.3" stroke="#7c7c82" stroke-width="0.85" />
<line x1="481.9" y1="281.6" x2="481.9" y2="227.1" stroke="#7c7c82" stroke-width="0.85" />
<line x1="562.5" y1="180.6" x2="481.5" y2="227.3" stroke="#88888e" stroke-width="1.0" />
<line x1="562.5" y1="235.1" x2="481.5" y2="281.8" stroke="#88888e" stroke-width="1.0" />
<line x1="528.5" y1="202.8" x2="528.5" y2="148.3" stroke="#7c7c82" stroke-width="0.85" />
<line x1="531.6" y1="204.6" x2="531.6" y2="150.1" stroke="#7c7c82" stroke-width="0.85" />
<line x1="534.7" y1="206.4" x2="534.7" y2="151.9" stroke="#7c7c82" stroke-width="0.85" />
<line x1="537.8" y1="208.1" x2="537.8" y2="153.6" stroke="#7c7c82" stroke-width="0.85" />
<line x1="540.9" y1="209.9" x2="540.9" y2="155.4" stroke="#7c7c82" stroke-width="0.85" />
<line x1="544" y1="211.7" x2="544" y2="157.2" stroke="#7c7c82" stroke-width="0.85" />
<line x1="547.1" y1="213.5" x2="547.1" y2="159" stroke="#7c7c82" stroke-width="0.85" />
<line x1="550.2" y1="215.3" x2="550.2" y2="160.8" stroke="#7c7c82" stroke-width="0.85" />
<line x1="553.3" y1="217.1" x2="553.3" y2="162.6" stroke="#7c7c82" stroke-width="0.85" />
<line x1="556.4" y1="218.9" x2="556.4" y2="164.4" stroke="#7c7c82" stroke-width="0.85" />
<line x1="559.5" y1="220.7" x2="559.5" y2="166.2" stroke="#7c7c82" stroke-width="0.85" />
<line x1="562.6" y1="222.5" x2="562.6" y2="168" stroke="#7c7c82" stroke-width="0.85" />
<line x1="565.7" y1="224.2" x2="565.7" y2="169.7" stroke="#7c7c82" stroke-width="0.85" />
<line x1="568.8" y1="226" x2="568.8" y2="171.5" stroke="#7c7c82" stroke-width="0.85" />
<line x1="571.9" y1="227.8" x2="571.9" y2="173.3" stroke="#7c7c82" stroke-width="0.85" />
<line x1="528.5" y1="148.3" x2="573.5" y2="174.2" stroke="#88888e" stroke-width="1.0" />
<line x1="528.5" y1="202.8" x2="573.5" y2="228.7" stroke="#88888e" stroke-width="1.0" />
<polygon points="433.3,233.5 421.9,240.1 421.9,200.1 433.3,193.5" fill="#4c4d52" />
<polygon points="426.9,235.2 424.2,236.7 424.2,226.3 426.9,224.8" fill="#151518" />
<polygon points="431.7,232.4 428.7,234.1 428.7,223.7 431.7,222" fill="#1e1e21" />
<polygon points="426.9,222 424.2,223.5 424.2,213.1 426.9,211.6" fill="#151518" />
<polygon points="431.7,219.2 428.7,220.9 428.7,210.5 431.7,208.8" fill="#1e1e21" />
<polygon points="426.9,208.8 424.2,210.3 424.2,200.7 426.9,199.2" fill="#151518" />
<polygon points="431.7,206 428.7,207.7 428.7,198.1 431.7,196.4" fill="#1e1e21" />
<line x1="433" y1="219.8" x2="422.2" y2="226.1" stroke="#c2c3c8" stroke-width="1.5" />
<line x1="433" y1="206.6" x2="422.2" y2="212.9" stroke="#c2c3c8" stroke-width="1.5" />
<line x1="422.7" y1="238.6" x2="422.7" y2="200.6" stroke="#f6f6f6" stroke-width="1.0" stroke-dasharray="2.5,1.5"/>
<polygon points="412.4,234.6 421.9,240.1 421.9,200.1 412.4,194.6" fill="#38393d" />
<polygon points="423.8,188 433.3,193.5 421.9,200.1 412.4,194.6" fill="#19191b" stroke="#ffffff" stroke-width="1.3" stroke-linejoin="round" />
<polygon points="444.7,226.9 433.3,233.5 433.3,193.5 444.7,186.9" fill="#4c4d52" />
<polygon points="438.3,228.6 435.6,230.2 435.6,219.8 438.3,218.2" fill="#151518" />
<polygon points="443.1,225.8 440.1,227.5 440.1,217.1 443.1,215.4" fill="#1e1e21" />
<polygon points="438.3,215.4 435.6,217 435.6,206.6 438.3,205" fill="#151518" />
<polygon points="443.1,212.6 440.1,214.3 440.1,203.9 443.1,202.2" fill="#1e1e21" />
<polygon points="438.3,202.2 435.6,203.8 435.6,194.2 438.3,192.6" fill="#151518" />
<polygon points="443.1,199.4 440.1,201.1 440.1,191.5 443.1,189.8" fill="#1e1e21" />
<line x1="444.4" y1="213.3" x2="433.6" y2="219.5" stroke="#c2c3c8" stroke-width="1.5" />
<line x1="444.4" y1="200.1" x2="433.6" y2="206.3" stroke="#c2c3c8" stroke-width="1.5" />
<line x1="434.1" y1="232" x2="434.1" y2="194" stroke="#f6f6f6" stroke-width="1.0" stroke-dasharray="2.5,1.5"/>
<polygon points="435.2,181.4 444.7,186.9 433.3,193.5 423.8,188" fill="#19191b" stroke="#ffffff" stroke-width="1.3" stroke-linejoin="round" />
<polygon points="456.1,220.3 444.7,226.9 444.7,186.9 456.1,180.3" fill="#4c4d52" />
<polygon points="449.7,222 447,223.6 447,213.2 449.7,211.6" fill="#151518" />
<polygon points="454.5,219.2 451.5,221 451.5,210.6 454.5,208.8" fill="#1e1e21" />
<polygon points="449.7,208.8 447,210.4 447,200 449.7,198.4" fill="#151518" />
<polygon points="454.5,206 451.5,207.8 451.5,197.4 454.5,195.6" fill="#1e1e21" />
<polygon points="449.7,195.6 447,197.2 447,187.6 449.7,186" fill="#151518" />
<polygon points="454.5,192.8 451.5,194.6 451.5,185 454.5,183.2" fill="#1e1e21" />
<line x1="455.8" y1="206.7" x2="445" y2="212.9" stroke="#c2c3c8" stroke-width="1.5" />
<line x1="455.8" y1="193.5" x2="445" y2="199.7" stroke="#c2c3c8" stroke-width="1.5" />
<line x1="445.5" y1="225.4" x2="445.5" y2="187.4" stroke="#f6f6f6" stroke-width="1.0" stroke-dasharray="2.5,1.5"/>
<polygon points="446.6,174.8 456.1,180.3 444.7,186.9 435.2,181.4" fill="#19191b" stroke="#ffffff" stroke-width="1.3" stroke-linejoin="round" />
<polygon points="467.5,213.7 456.1,220.3 456.1,180.3 467.5,173.7" fill="#4c4d52" />
<polygon points="461.1,215.4 458.4,217 458.4,206.6 461.1,205" fill="#151518" />
<polygon points="465.9,212.7 462.9,214.4 462.9,204 465.9,202.3" fill="#1e1e21" />
<polygon points="461.1,202.2 458.4,203.8 458.4,193.4 461.1,191.8" fill="#151518" />
<polygon points="465.9,199.5 462.9,201.2 462.9,190.8 465.9,189.1" fill="#1e1e21" />
<polygon points="461.1,189 458.4,190.6 458.4,181 461.1,179.4" fill="#151518" />
<polygon points="465.9,186.3 462.9,188 462.9,178.4 465.9,176.7" fill="#1e1e21" />
<line x1="467.2" y1="200.1" x2="456.4" y2="206.3" stroke="#c2c3c8" stroke-width="1.5" />
<line x1="467.2" y1="186.9" x2="456.4" y2="193.1" stroke="#c2c3c8" stroke-width="1.5" />
<line x1="456.9" y1="218.9" x2="456.9" y2="180.9" stroke="#f6f6f6" stroke-width="1.0" stroke-dasharray="2.5,1.5"/>
<polygon points="458,168.3 467.5,173.7 456.1,180.3 446.6,174.8" fill="#19191b" stroke="#ffffff" stroke-width="1.3" stroke-linejoin="round" />
<polygon points="478.9,207.2 467.5,213.7 467.5,173.7 478.9,167.2" fill="#4c4d52" />
<polygon points="472.5,208.8 469.8,210.4 469.8,200 472.5,198.4" fill="#151518" />
<polygon points="477.3,206.1 474.3,207.8 474.3,197.4 477.3,195.7" fill="#1e1e21" />
<polygon points="472.5,195.6 469.8,197.2 469.8,186.8 472.5,185.2" fill="#151518" />
<polygon points="477.3,192.9 474.3,194.6 474.3,184.2 477.3,182.5" fill="#1e1e21" />
<polygon points="472.5,182.4 469.8,184 469.8,174.4 472.5,172.8" fill="#151518" />
<polygon points="477.3,179.7 474.3,181.4 474.3,171.8 477.3,170.1" fill="#1e1e21" />
<line x1="478.6" y1="193.5" x2="467.8" y2="199.8" stroke="#c2c3c8" stroke-width="1.5" />
<line x1="478.6" y1="180.3" x2="467.8" y2="186.6" stroke="#c2c3c8" stroke-width="1.5" />
<line x1="468.3" y1="212.3" x2="468.3" y2="174.3" stroke="#f6f6f6" stroke-width="1.0" stroke-dasharray="2.5,1.5"/>
<polygon points="469.4,161.7 478.9,167.2 467.5,173.7 458,168.3" fill="#19191b" stroke="#ffffff" stroke-width="1.3" stroke-linejoin="round" />
<polygon points="490.3,200.6 478.9,207.2 478.9,167.2 490.3,160.6" fill="#4c4d52" />
<polygon points="483.9,202.3 481.2,203.8 481.2,193.4 483.9,191.9" fill="#151518" />
<polygon points="488.7,199.5 485.7,201.2 485.7,190.8 488.7,189.1" fill="#1e1e21" />
<polygon points="483.9,189.1 481.2,190.6 481.2,180.2 483.9,178.7" fill="#151518" />
<polygon points="488.7,186.3 485.7,188 485.7,177.6 488.7,175.9" fill="#1e1e21" />
<polygon points="483.9,175.9 481.2,177.4 481.2,167.8 483.9,166.3" fill="#151518" />
<polygon points="488.7,173.1 485.7,174.8 485.7,165.2 488.7,163.5" fill="#1e1e21" />
<line x1="490" y1="187" x2="479.2" y2="193.2" stroke="#c2c3c8" stroke-width="1.5" />
<line x1="490" y1="173.8" x2="479.2" y2="180" stroke="#c2c3c8" stroke-width="1.5" />
<line x1="479.7" y1="205.7" x2="479.7" y2="167.7" stroke="#f6f6f6" stroke-width="1.0" stroke-dasharray="2.5,1.5"/>
<polygon points="480.8,155.1 490.3,160.6 478.9,167.2 469.4,161.7" fill="#19191b" stroke="#ffffff" stroke-width="1.3" stroke-linejoin="round" />
<polygon points="478.9,257.9 467.5,264.5 467.5,224.5 478.9,217.9" fill="#4c4d52" />
<polygon points="472.5,259.6 469.8,261.2 469.8,250.8 472.5,249.2" fill="#151518" />
<polygon points="477.3,256.9 474.3,258.6 474.3,248.2 477.3,246.5" fill="#1e1e21" />
<polygon points="472.5,246.4 469.8,248 469.8,237.6 472.5,236" fill="#151518" />
<polygon points="477.3,243.7 474.3,245.4 474.3,235 477.3,233.3" fill="#1e1e21" />
<polygon points="472.5,233.2 469.8,234.8 469.8,225.2 472.5,223.6" fill="#151518" />
<polygon points="477.3,230.5 474.3,232.2 474.3,222.6 477.3,220.9" fill="#1e1e21" />
<line x1="478.6" y1="244.3" x2="467.8" y2="250.5" stroke="#c2c3c8" stroke-width="1.5" />
<line x1="478.6" y1="231.1" x2="467.8" y2="237.3" stroke="#c2c3c8" stroke-width="1.5" />
<line x1="468.3" y1="263.1" x2="468.3" y2="225.1" stroke="#f6f6f6" stroke-width="1.0" stroke-dasharray="2.5,1.5"/>
<polygon points="458,259 467.5,264.5 467.5,224.5 458,219" fill="#38393d" />
<polygon points="469.4,212.5 478.9,217.9 467.5,224.5 458,219" fill="#19191b" stroke="#ffffff" stroke-width="1.3" stroke-linejoin="round" />
<polygon points="490.3,251.4 478.9,257.9 478.9,217.9 490.3,211.4" fill="#4c4d52" />
<polygon points="483.9,253 481.2,254.6 481.2,244.2 483.9,242.6" fill="#151518" />
<polygon points="488.7,250.3 485.7,252 485.7,241.6 488.7,239.9" fill="#1e1e21" />
<polygon points="483.9,239.8 481.2,241.4 481.2,231 483.9,229.4" fill="#151518" />
<polygon points="488.7,237.1 485.7,238.8 485.7,228.4 488.7,226.7" fill="#1e1e21" />
<polygon points="483.9,226.6 481.2,228.2 481.2,218.6 483.9,217" fill="#151518" />
<polygon points="488.7,223.9 485.7,225.6 485.7,216 488.7,214.3" fill="#1e1e21" />
<line x1="490" y1="237.7" x2="479.2" y2="244" stroke="#c2c3c8" stroke-width="1.5" />
<line x1="490" y1="224.5" x2="479.2" y2="230.8" stroke="#c2c3c8" stroke-width="1.5" />
<line x1="479.7" y1="256.5" x2="479.7" y2="218.5" stroke="#f6f6f6" stroke-width="1.0" stroke-dasharray="2.5,1.5"/>
<polygon points="480.8,205.9 490.3,211.4 478.9,217.9 469.4,212.5" fill="#19191b" stroke="#ffffff" stroke-width="1.3" stroke-linejoin="round" />
<polygon points="501.7,244.8 490.3,251.4 490.3,211.4 501.7,204.8" fill="#4c4d52" />
<polygon points="495.3,246.5 492.6,248 492.6,237.6 495.3,236.1" fill="#151518" />
<polygon points="500.1,243.7 497.1,245.4 497.1,235 500.1,233.3" fill="#1e1e21" />
<polygon points="495.3,233.3 492.6,234.8 492.6,224.4 495.3,222.9" fill="#151518" />
<polygon points="500.1,230.5 497.1,232.2 497.1,221.8 500.1,220.1" fill="#1e1e21" />
<polygon points="495.3,220.1 492.6,221.6 492.6,212 495.3,210.5" fill="#151518" />
<polygon points="500.1,217.3 497.1,219 497.1,209.4 500.1,207.7" fill="#1e1e21" />
<line x1="501.4" y1="231.2" x2="490.6" y2="237.4" stroke="#c2c3c8" stroke-width="1.5" />
<line x1="501.4" y1="218" x2="490.6" y2="224.2" stroke="#c2c3c8" stroke-width="1.5" />
<line x1="491.1" y1="249.9" x2="491.1" y2="211.9" stroke="#f6f6f6" stroke-width="1.0" stroke-dasharray="2.5,1.5"/>
<polygon points="492.2,199.3 501.7,204.8 490.3,211.4 480.8,205.9" fill="#19191b" stroke="#ffffff" stroke-width="1.3" stroke-linejoin="round" />
<polygon points="513.1,238.2 501.7,244.8 501.7,204.8 513.1,198.2" fill="#4c4d52" />
<polygon points="506.7,239.9 504,241.5 504,231.1 506.7,229.5" fill="#151518" />
<polygon points="511.5,237.1 508.5,238.8 508.5,228.4 511.5,226.7" fill="#1e1e21" />
<polygon points="506.7,226.7 504,228.3 504,217.9 506.7,216.3" fill="#151518" />
<polygon points="511.5,223.9 508.5,225.6 508.5,215.2 511.5,213.5" fill="#1e1e21" />
<polygon points="506.7,213.5 504,215.1 504,205.5 506.7,203.9" fill="#151518" />
<polygon points="511.5,210.7 508.5,212.4 508.5,202.8 511.5,201.1" fill="#1e1e21" />
<line x1="512.8" y1="224.6" x2="502" y2="230.8" stroke="#c2c3c8" stroke-width="1.5" />
<line x1="512.8" y1="211.4" x2="502" y2="217.6" stroke="#c2c3c8" stroke-width="1.5" />
<line x1="502.5" y1="243.3" x2="502.5" y2="205.3" stroke="#f6f6f6" stroke-width="1.0" stroke-dasharray="2.5,1.5"/>
<polygon points="503.6,192.7 513.1,198.2 501.7,204.8 492.2,199.3" fill="#19191b" stroke="#ffffff" stroke-width="1.3" stroke-linejoin="round" />
<polygon points="524.5,231.6 513.1,238.2 513.1,198.2 524.5,191.6" fill="#4c4d52" />
<polygon points="518.1,233.3 515.4,234.9 515.4,224.5 518.1,222.9" fill="#151518" />
<polygon points="522.9,230.5 519.9,232.3 519.9,221.9 522.9,220.1" fill="#1e1e21" />
<polygon points="518.1,220.1 515.4,221.7 515.4,211.3 518.1,209.7" fill="#151518" />
<polygon points="522.9,217.3 519.9,219.1 519.9,208.7 522.9,206.9" fill="#1e1e21" />
<polygon points="518.1,206.9 515.4,208.5 515.4,198.9 518.1,197.3" fill="#151518" />
<polygon points="522.9,204.1 519.9,205.9 519.9,196.3 522.9,194.5" fill="#1e1e21" />
<line x1="524.2" y1="218" x2="513.4" y2="224.2" stroke="#c2c3c8" stroke-width="1.5" />
<line x1="524.2" y1="204.8" x2="513.4" y2="211" stroke="#c2c3c8" stroke-width="1.5" />
<line x1="513.9" y1="236.7" x2="513.9" y2="198.7" stroke="#f6f6f6" stroke-width="1.0" stroke-dasharray="2.5,1.5"/>
<polygon points="515,186.1 524.5,191.6 513.1,198.2 503.6,192.7" fill="#19191b" stroke="#ffffff" stroke-width="1.3" stroke-linejoin="round" />
<polygon points="535.9,225.1 524.5,231.6 524.5,191.6 535.9,185.1" fill="#4c4d52" />
<polygon points="529.5,226.7 526.8,228.3 526.8,217.9 529.5,216.3" fill="#151518" />
<polygon points="534.3,224 531.3,225.7 531.3,215.3 534.3,213.6" fill="#1e1e21" />
<polygon points="529.5,213.5 526.8,215.1 526.8,204.7 529.5,203.1" fill="#151518" />
<polygon points="534.3,210.8 531.3,212.5 531.3,202.1 534.3,200.4" fill="#1e1e21" />
<polygon points="529.5,200.3 526.8,201.9 526.8,192.3 529.5,190.7" fill="#151518" />
<polygon points="534.3,197.6 531.3,199.3 531.3,189.7 534.3,188" fill="#1e1e21" />
<line x1="535.6" y1="211.4" x2="524.8" y2="217.7" stroke="#c2c3c8" stroke-width="1.5" />
<line x1="535.6" y1="198.2" x2="524.8" y2="204.5" stroke="#c2c3c8" stroke-width="1.5" />
<line x1="525.3" y1="230.2" x2="525.3" y2="192.2" stroke="#f6f6f6" stroke-width="1.0" stroke-dasharray="2.5,1.5"/>
<polygon points="526.4,179.6 535.9,185.1 524.5,191.6 515,186.1" fill="#19191b" stroke="#ffffff" stroke-width="1.3" stroke-linejoin="round" />
<path d="M387,209 V218 Q387,223 392,225" fill="none" stroke="#f7941d" stroke-width="1.6" />
<polyline points="387.7,224 468.7,270.7 538.5,230.5 538,225.6" fill="none" stroke="#f7941d" stroke-width="1.6" stroke-linejoin="round" stroke-linecap="round" />
<polyline points="422.7,244.2 488.5,206.2" fill="none" stroke="#f7941d" stroke-width="1.6" stroke-linejoin="round" stroke-linecap="round" />
<line x1="473.2" y1="261.2" x2="479.2" y2="264.7" stroke="#f7941d" stroke-width="1.1" />
<line x1="484.6" y1="254.7" x2="490.6" y2="258.1" stroke="#f7941d" stroke-width="1.1" />
<line x1="496" y1="248.1" x2="502" y2="251.5" stroke="#f7941d" stroke-width="1.1" />
<line x1="507.4" y1="241.5" x2="513.4" y2="245" stroke="#f7941d" stroke-width="1.1" />
<line x1="518.8" y1="234.9" x2="524.8" y2="238.4" stroke="#f7941d" stroke-width="1.1" />
<line x1="530.2" y1="228.3" x2="536.2" y2="231.8" stroke="#f7941d" stroke-width="1.1" />
<ellipse cx="396.5" cy="220.8" rx="1.1" ry="1.6" fill="#111"/>
<ellipse cx="428.5" cy="239.2" rx="1.1" ry="1.6" fill="#111"/>
<ellipse cx="449.5" cy="229.4" rx="1.1" ry="1.6" fill="#111"/>
<ellipse cx="446.5" cy="249.6" rx="1.1" ry="1.6" fill="#111"/>
<polygon points="578.5,175.2 473.5,235.8 473.5,231.3 578.5,170.7" fill="#d9d9dd" stroke="#77777d" stroke-width="0.8" stroke-linejoin="round" />
<polygon points="369.5,175.7 473.5,235.8 473.5,231.3 369.5,171.2" fill="#dcdce0" stroke="#77777d" stroke-width="0.8" stroke-linejoin="round" />
<polygon points="474.5,110.7 578.5,170.7 473.5,231.3 369.5,171.2" fill="#e6e6ea" />
<line x1="369.5" y1="171.2" x2="473.5" y2="231.3" stroke="#f4f4f6" stroke-width="0.8" />
<polygon points="392.3,143 381.8,149 381.8,136.2 392.3,130.2" fill="#ffffff" stroke="#ffffff" stroke-width="2.6" stroke-linejoin="round" />
<polygon points="376.8,146.1 381.8,149 381.8,136.2 376.8,133.3" fill="#ffffff" stroke="#ffffff" stroke-width="2.6" stroke-linejoin="round" />
<polygon points="387.3,127.3 392.3,130.2 381.8,136.2 376.8,133.3" fill="#ffffff" stroke="#ffffff" stroke-width="2.6" stroke-linejoin="round" />
<polygon points="392.3,143 381.8,149 381.8,136.2 392.3,130.2" fill="#4d4e53" />
<polygon points="376.8,146.1 381.8,149 381.8,136.2 376.8,133.3" fill="#5d5e63" />
<polygon points="387.3,127.3 392.3,130.2 381.8,136.2 376.8,133.3" fill="#6e6f74" />
<line x1="387.6" y1="128.6" x2="379.1" y2="133.5" stroke="#2a2a2e" stroke-width="0.7" />
<line x1="389" y1="129.4" x2="380.5" y2="134.3" stroke="#2a2a2e" stroke-width="0.7" />
<line x1="390.4" y1="130.2" x2="381.9" y2="135.1" stroke="#2a2a2e" stroke-width="0.7" />
<polygon points="391.1,142.5 387.5,144.5 387.5,134.1 391.1,132.1" fill="#0c0c0e" />
<polygon points="386.7,145 384.6,146.2 384.6,135.8 386.7,134.6" fill="#0c0c0e" />
<line x1="383.6" y1="145.5" x2="383.6" y2="139.7" stroke="#e0e0e0" stroke-width="1.1" />
<path d="M378,150 V161 Q378,166.5 383,169.5" fill="none" stroke="#f8e31c" stroke-width="1.7" />
<polyline points="381,171.5 469.5,222.6 546,178.5 545.5,173.6" fill="none" stroke="#f8e31c" stroke-width="1.7" stroke-linejoin="round" stroke-linecap="round" />
<polyline points="414.5,190.9 491,146.7 490.5,141.8" fill="none" stroke="#f8e31c" stroke-width="1.7" stroke-linejoin="round" stroke-linecap="round" />
<line x1="416.7" y1="182.1" x2="423.2" y2="185.8" stroke="#f8e31c" stroke-width="1.1" />
<line x1="428.1" y1="175.5" x2="434.6" y2="179.3" stroke="#f8e31c" stroke-width="1.1" />
<line x1="439.5" y1="168.9" x2="446" y2="172.7" stroke="#f8e31c" stroke-width="1.1" />
<line x1="450.9" y1="162.4" x2="457.4" y2="166.1" stroke="#f8e31c" stroke-width="1.1" />
<line x1="462.3" y1="155.8" x2="468.8" y2="159.5" stroke="#f8e31c" stroke-width="1.1" />
<line x1="473.7" y1="149.2" x2="480.2" y2="153" stroke="#f8e31c" stroke-width="1.1" />
<line x1="485.1" y1="142.6" x2="491.6" y2="146.4" stroke="#f8e31c" stroke-width="1.1" />
<line x1="472.2" y1="214.7" x2="477.7" y2="217.9" stroke="#f8e31c" stroke-width="1.1" />
<line x1="483.6" y1="208.1" x2="489.1" y2="211.3" stroke="#f8e31c" stroke-width="1.1" />
<line x1="495" y1="201.5" x2="500.5" y2="204.7" stroke="#f8e31c" stroke-width="1.1" />
<line x1="506.4" y1="195" x2="511.9" y2="198.1" stroke="#f8e31c" stroke-width="1.1" />
<line x1="517.8" y1="188.4" x2="523.3" y2="191.6" stroke="#f8e31c" stroke-width="1.1" />
<line x1="529.2" y1="181.8" x2="534.7" y2="185" stroke="#f8e31c" stroke-width="1.1" />
<line x1="540.6" y1="175.2" x2="546.1" y2="178.4" stroke="#f8e31c" stroke-width="1.1" />
<polygon points="422.4,178.8 411,185.4 411,150.9 422.4,144.3" fill="#4c4d52" />
<polygon points="416,180.8 413.3,182.3 413.3,173.4 416,171.8" fill="#151518" />
<polygon points="420.8,178 417.8,179.7 417.8,170.7 420.8,169" fill="#1e1e21" />
<polygon points="416,169.4 413.3,171 413.3,162 416,160.4" fill="#151518" />
<polygon points="420.8,166.6 417.8,168.3 417.8,159.4 420.8,157.6" fill="#1e1e21" />
<polygon points="416,158 413.3,159.6 413.3,151.3 416,149.7" fill="#151518" />
<polygon points="420.8,155.2 417.8,156.9 417.8,148.7 420.8,146.9" fill="#1e1e21" />
<line x1="422.1" y1="167.1" x2="411.3" y2="173.3" stroke="#c2c3c8" stroke-width="1.5" />
<line x1="422.1" y1="155.7" x2="411.3" y2="161.9" stroke="#c2c3c8" stroke-width="1.5" />
<line x1="411.8" y1="183.9" x2="411.8" y2="151.4" stroke="#f6f6f6" stroke-width="1.0" stroke-dasharray="2.5,1.5"/>
<polygon points="401.5,179.9 411,185.4 411,150.9 401.5,145.4" fill="#38393d" />
<polygon points="412.9,138.8 422.4,144.3 411,150.9 401.5,145.4" fill="#19191b" stroke="#ffffff" stroke-width="1.3" stroke-linejoin="round" />
<polygon points="433.8,172.2 422.4,178.8 422.4,144.3 433.8,137.7" fill="#4c4d52" />
<polygon points="427.4,174.2 424.7,175.8 424.7,166.8 427.4,165.2" fill="#151518" />
<polygon points="432.2,171.4 429.2,173.1 429.2,164.2 432.2,162.5" fill="#1e1e21" />
<polygon points="427.4,162.8 424.7,164.4 424.7,155.4 427.4,153.8" fill="#151518" />
<polygon points="432.2,160 429.2,161.7 429.2,152.8 432.2,151.1" fill="#1e1e21" />
<polygon points="427.4,151.4 424.7,153 424.7,144.7 427.4,143.1" fill="#151518" />
<polygon points="432.2,148.7 429.2,150.4 429.2,142.1 432.2,140.4" fill="#1e1e21" />
<line x1="433.5" y1="160.5" x2="422.7" y2="166.7" stroke="#c2c3c8" stroke-width="1.5" />
<line x1="433.5" y1="149.1" x2="422.7" y2="155.3" stroke="#c2c3c8" stroke-width="1.5" />
<line x1="423.2" y1="177.3" x2="423.2" y2="144.8" stroke="#f6f6f6" stroke-width="1.0" stroke-dasharray="2.5,1.5"/>
<polygon points="424.3,132.2 433.8,137.7 422.4,144.3 412.9,138.8" fill="#19191b" stroke="#ffffff" stroke-width="1.3" stroke-linejoin="round" />
<polygon points="445.2,165.6 433.8,172.2 433.8,137.7 445.2,131.1" fill="#4c4d52" />
<polygon points="438.8,167.6 436.1,169.2 436.1,160.2 438.8,158.6" fill="#151518" />
<polygon points="443.6,164.8 440.6,166.6 440.6,157.6 443.6,155.9" fill="#1e1e21" />
<polygon points="438.8,156.2 436.1,157.8 436.1,148.8 438.8,147.3" fill="#151518" />
<polygon points="443.6,153.5 440.6,155.2 440.6,146.2 443.6,144.5" fill="#1e1e21" />
<polygon points="438.8,144.8 436.1,146.4 436.1,138.1 438.8,136.6" fill="#151518" />
<polygon points="443.6,142.1 440.6,143.8 440.6,135.5 443.6,133.8" fill="#1e1e21" />
<line x1="444.9" y1="153.9" x2="434.1" y2="160.1" stroke="#c2c3c8" stroke-width="1.5" />
<line x1="444.9" y1="142.5" x2="434.1" y2="148.8" stroke="#c2c3c8" stroke-width="1.5" />
<line x1="434.6" y1="170.8" x2="434.6" y2="138.3" stroke="#f6f6f6" stroke-width="1.0" stroke-dasharray="2.5,1.5"/>
<polygon points="435.7,125.7 445.2,131.1 433.8,137.7 424.3,132.2" fill="#19191b" stroke="#ffffff" stroke-width="1.3" stroke-linejoin="round" />
<polygon points="456.6,159.1 445.2,165.6 445.2,131.1 456.6,124.6" fill="#4c4d52" />
<polygon points="450.2,161 447.5,162.6 447.5,153.6 450.2,152.1" fill="#151518" />
<polygon points="455,158.3 452,160 452,151 455,149.3" fill="#1e1e21" />
<polygon points="450.2,149.6 447.5,151.2 447.5,142.3 450.2,140.7" fill="#151518" />
<polygon points="455,146.9 452,148.6 452,139.6 455,137.9" fill="#1e1e21" />
<polygon points="450.2,138.3 447.5,139.8 447.5,131.6 450.2,130" fill="#151518" />
<polygon points="455,135.5 452,137.2 452,128.9 455,127.2" fill="#1e1e21" />
<line x1="456.3" y1="147.3" x2="445.5" y2="153.6" stroke="#c2c3c8" stroke-width="1.5" />
<line x1="456.3" y1="136" x2="445.5" y2="142.2" stroke="#c2c3c8" stroke-width="1.5" />
<line x1="446" y1="164.2" x2="446" y2="131.7" stroke="#f6f6f6" stroke-width="1.0" stroke-dasharray="2.5,1.5"/>
<polygon points="447.1,119.1 456.6,124.6 445.2,131.1 435.7,125.7" fill="#19191b" stroke="#ffffff" stroke-width="1.3" stroke-linejoin="round" />
<polygon points="468,152.5 456.6,159.1 456.6,124.6 468,118" fill="#4c4d52" />
<polygon points="461.6,154.5 458.9,156 458.9,147.1 461.6,145.5" fill="#151518" />
<polygon points="466.4,151.7 463.4,153.4 463.4,144.4 466.4,142.7" fill="#1e1e21" />
<polygon points="461.6,143.1 458.9,144.6 458.9,135.7 461.6,134.1" fill="#151518" />
<polygon points="466.4,140.3 463.4,142 463.4,133 466.4,131.3" fill="#1e1e21" />
<polygon points="461.6,131.7 458.9,133.3 458.9,125 461.6,123.4" fill="#151518" />
<polygon points="466.4,128.9 463.4,130.6 463.4,122.3 466.4,120.6" fill="#1e1e21" />
<line x1="467.7" y1="140.8" x2="456.9" y2="147" stroke="#c2c3c8" stroke-width="1.5" />
<line x1="467.7" y1="129.4" x2="456.9" y2="135.6" stroke="#c2c3c8" stroke-width="1.5" />
<line x1="457.4" y1="157.6" x2="457.4" y2="125.1" stroke="#f6f6f6" stroke-width="1.0" stroke-dasharray="2.5,1.5"/>
<polygon points="458.5,112.5 468,118 456.6,124.6 447.1,119.1" fill="#19191b" stroke="#ffffff" stroke-width="1.3" stroke-linejoin="round" />
<polygon points="479.4,145.9 468,152.5 468,118 479.4,111.4" fill="#4c4d52" />
<polygon points="473,147.9 470.3,149.5 470.3,140.5 473,138.9" fill="#151518" />
<polygon points="477.8,145.1 474.8,146.8 474.8,137.8 477.8,136.1" fill="#1e1e21" />
<polygon points="473,136.5 470.3,138.1 470.3,129.1 473,127.5" fill="#151518" />
<polygon points="477.8,133.7 474.8,135.4 474.8,126.5 477.8,124.8" fill="#1e1e21" />
<polygon points="473,125.1 470.3,126.7 470.3,118.4 473,116.8" fill="#151518" />
<polygon points="477.8,122.3 474.8,124 474.8,115.8 477.8,114.1" fill="#1e1e21" />
<line x1="479.1" y1="134.2" x2="468.3" y2="140.4" stroke="#c2c3c8" stroke-width="1.5" />
<line x1="479.1" y1="122.8" x2="468.3" y2="129" stroke="#c2c3c8" stroke-width="1.5" />
<line x1="468.8" y1="151" x2="468.8" y2="118.5" stroke="#f6f6f6" stroke-width="1.0" stroke-dasharray="2.5,1.5"/>
<polygon points="469.9,105.9 479.4,111.4 468,118 458.5,112.5" fill="#19191b" stroke="#ffffff" stroke-width="1.3" stroke-linejoin="round" />
<polygon points="490.8,139.3 479.4,145.9 479.4,111.4 490.8,104.8" fill="#4c4d52" />
<polygon points="484.4,141.3 481.7,142.9 481.7,133.9 484.4,132.3" fill="#151518" />
<polygon points="489.2,138.5 486.2,140.2 486.2,131.3 489.2,129.6" fill="#1e1e21" />
<polygon points="484.4,129.9 481.7,131.5 481.7,122.5 484.4,120.9" fill="#151518" />
<polygon points="489.2,127.1 486.2,128.9 486.2,119.9 489.2,118.2" fill="#1e1e21" />
<polygon points="484.4,118.5 481.7,120.1 481.7,111.8 484.4,110.2" fill="#151518" />
<polygon points="489.2,115.8 486.2,117.5 486.2,109.2 489.2,107.5" fill="#1e1e21" />
<line x1="490.5" y1="127.6" x2="479.7" y2="133.8" stroke="#c2c3c8" stroke-width="1.5" />
<line x1="490.5" y1="116.2" x2="479.7" y2="122.5" stroke="#c2c3c8" stroke-width="1.5" />
<line x1="480.2" y1="144.5" x2="480.2" y2="112" stroke="#f6f6f6" stroke-width="1.0" stroke-dasharray="2.5,1.5"/>
<polygon points="481.3,99.4 490.8,104.8 479.4,111.4 469.9,105.9" fill="#19191b" stroke="#ffffff" stroke-width="1.3" stroke-linejoin="round" />
<polygon points="477.9,211.4 466.5,218 466.5,183.5 477.9,176.9" fill="#4c4d52" />
<polygon points="471.5,213.4 468.8,214.9 468.8,206 471.5,204.4" fill="#151518" />
<polygon points="476.3,210.6 473.3,212.3 473.3,203.3 476.3,201.6" fill="#1e1e21" />
<polygon points="471.5,202 468.8,203.6 468.8,194.6 471.5,193" fill="#151518" />
<polygon points="476.3,199.2 473.3,200.9 473.3,192 476.3,190.2" fill="#1e1e21" />
<polygon points="471.5,190.6 468.8,192.2 468.8,183.9 471.5,182.3" fill="#151518" />
<polygon points="476.3,187.8 473.3,189.5 473.3,181.3 476.3,179.5" fill="#1e1e21" />
<line x1="477.6" y1="199.7" x2="466.8" y2="205.9" stroke="#c2c3c8" stroke-width="1.5" />
<line x1="477.6" y1="188.3" x2="466.8" y2="194.5" stroke="#c2c3c8" stroke-width="1.5" />
<line x1="467.3" y1="216.5" x2="467.3" y2="184" stroke="#f6f6f6" stroke-width="1.0" stroke-dasharray="2.5,1.5"/>
<polygon points="457,212.5 466.5,218 466.5,183.5 457,178" fill="#38393d" />
<polygon points="468.4,171.4 477.9,176.9 466.5,183.5 457,178" fill="#19191b" stroke="#ffffff" stroke-width="1.3" stroke-linejoin="round" />
<polygon points="489.3,204.8 477.9,211.4 477.9,176.9 489.3,170.3" fill="#4c4d52" />
<polygon points="482.9,206.8 480.2,208.4 480.2,199.4 482.9,197.8" fill="#151518" />
<polygon points="487.7,204 484.7,205.7 484.7,196.8 487.7,195.1" fill="#1e1e21" />
<polygon points="482.9,195.4 480.2,197 480.2,188 482.9,186.4" fill="#151518" />
<polygon points="487.7,192.6 484.7,194.3 484.7,185.4 487.7,183.7" fill="#1e1e21" />
<polygon points="482.9,184 480.2,185.6 480.2,177.3 482.9,175.7" fill="#151518" />
<polygon points="487.7,181.3 484.7,183 484.7,174.7 487.7,173" fill="#1e1e21" />
<line x1="489" y1="193.1" x2="478.2" y2="199.3" stroke="#c2c3c8" stroke-width="1.5" />
<line x1="489" y1="181.7" x2="478.2" y2="187.9" stroke="#c2c3c8" stroke-width="1.5" />
<line x1="478.7" y1="209.9" x2="478.7" y2="177.4" stroke="#f6f6f6" stroke-width="1.0" stroke-dasharray="2.5,1.5"/>
<polygon points="479.8,164.8 489.3,170.3 477.9,176.9 468.4,171.4" fill="#19191b" stroke="#ffffff" stroke-width="1.3" stroke-linejoin="round" />
<polygon points="500.7,198.2 489.3,204.8 489.3,170.3 500.7,163.7" fill="#4c4d52" />
<polygon points="494.3,200.2 491.6,201.8 491.6,192.8 494.3,191.2" fill="#151518" />
<polygon points="499.1,197.4 496.1,199.2 496.1,190.2 499.1,188.5" fill="#1e1e21" />
<polygon points="494.3,188.8 491.6,190.4 491.6,181.4 494.3,179.9" fill="#151518" />
<polygon points="499.1,186.1 496.1,187.8 496.1,178.8 499.1,177.1" fill="#1e1e21" />
<polygon points="494.3,177.4 491.6,179 491.6,170.7 494.3,169.2" fill="#151518" />
<polygon points="499.1,174.7 496.1,176.4 496.1,168.1 499.1,166.4" fill="#1e1e21" />
<line x1="500.4" y1="186.5" x2="489.6" y2="192.7" stroke="#c2c3c8" stroke-width="1.5" />
<line x1="500.4" y1="175.1" x2="489.6" y2="181.4" stroke="#c2c3c8" stroke-width="1.5" />
<line x1="490.1" y1="203.4" x2="490.1" y2="170.9" stroke="#f6f6f6" stroke-width="1.0" stroke-dasharray="2.5,1.5"/>
<polygon points="491.2,158.3 500.7,163.7 489.3,170.3 479.8,164.8" fill="#19191b" stroke="#ffffff" stroke-width="1.3" stroke-linejoin="round" />
<polygon points="512.1,191.7 500.7,198.2 500.7,163.7 512.1,157.2" fill="#4c4d52" />
<polygon points="505.7,193.6 503,195.2 503,186.2 505.7,184.7" fill="#151518" />
<polygon points="510.5,190.9 507.5,192.6 507.5,183.6 510.5,181.9" fill="#1e1e21" />
<polygon points="505.7,182.2 503,183.8 503,174.9 505.7,173.3" fill="#151518" />
<polygon points="510.5,179.5 507.5,181.2 507.5,172.2 510.5,170.5" fill="#1e1e21" />
<polygon points="505.7,170.9 503,172.4 503,164.2 505.7,162.6" fill="#151518" />
<polygon points="510.5,168.1 507.5,169.8 507.5,161.5 510.5,159.8" fill="#1e1e21" />
<line x1="511.8" y1="179.9" x2="501" y2="186.2" stroke="#c2c3c8" stroke-width="1.5" />
<line x1="511.8" y1="168.6" x2="501" y2="174.8" stroke="#c2c3c8" stroke-width="1.5" />
<line x1="501.5" y1="196.8" x2="501.5" y2="164.3" stroke="#f6f6f6" stroke-width="1.0" stroke-dasharray="2.5,1.5"/>
<polygon points="502.6,151.7 512.1,157.2 500.7,163.7 491.2,158.3" fill="#19191b" stroke="#ffffff" stroke-width="1.3" stroke-linejoin="round" />
<polygon points="523.5,185.1 512.1,191.7 512.1,157.2 523.5,150.6" fill="#4c4d52" />
<polygon points="517.1,187.1 514.4,188.6 514.4,179.7 517.1,178.1" fill="#151518" />
<polygon points="521.9,184.3 518.9,186 518.9,177 521.9,175.3" fill="#1e1e21" />
<polygon points="517.1,175.7 514.4,177.2 514.4,168.3 517.1,166.7" fill="#151518" />
<polygon points="521.9,172.9 518.9,174.6 518.9,165.6 521.9,163.9" fill="#1e1e21" />
<polygon points="517.1,164.3 514.4,165.9 514.4,157.6 517.1,156" fill="#151518" />
<polygon points="521.9,161.5 518.9,163.2 518.9,154.9 521.9,153.2" fill="#1e1e21" />
<line x1="523.2" y1="173.4" x2="512.4" y2="179.6" stroke="#c2c3c8" stroke-width="1.5" />
<line x1="523.2" y1="162" x2="512.4" y2="168.2" stroke="#c2c3c8" stroke-width="1.5" />
<line x1="512.9" y1="190.2" x2="512.9" y2="157.7" stroke="#f6f6f6" stroke-width="1.0" stroke-dasharray="2.5,1.5"/>
<polygon points="514,145.1 523.5,150.6 512.1,157.2 502.6,151.7" fill="#19191b" stroke="#ffffff" stroke-width="1.3" stroke-linejoin="round" />
<polygon points="534.9,178.5 523.5,185.1 523.5,150.6 534.9,144" fill="#4c4d52" />
<polygon points="528.5,180.5 525.8,182.1 525.8,173.1 528.5,171.5" fill="#151518" />
<polygon points="533.3,177.7 530.3,179.4 530.3,170.5 533.3,168.7" fill="#1e1e21" />
<polygon points="528.5,169.1 525.8,170.7 525.8,161.7 528.5,160.1" fill="#151518" />
<polygon points="533.3,166.3 530.3,168 530.3,159.1 533.3,157.4" fill="#1e1e21" />
<polygon points="528.5,157.7 525.8,159.3 525.8,151 528.5,149.4" fill="#151518" />
<polygon points="533.3,154.9 530.3,156.7 530.3,148.4 533.3,146.7" fill="#1e1e21" />
<line x1="534.6" y1="166.8" x2="523.8" y2="173" stroke="#c2c3c8" stroke-width="1.5" />
<line x1="534.6" y1="155.4" x2="523.8" y2="161.6" stroke="#c2c3c8" stroke-width="1.5" />
<line x1="524.3" y1="183.6" x2="524.3" y2="151.1" stroke="#f6f6f6" stroke-width="1.0" stroke-dasharray="2.5,1.5"/>
<polygon points="525.4,138.5 534.9,144 523.5,150.6 514,145.1" fill="#19191b" stroke="#ffffff" stroke-width="1.3" stroke-linejoin="round" />
<polygon points="546.3,171.9 534.9,178.5 534.9,144 546.3,137.4" fill="#4c4d52" />
<polygon points="539.9,173.9 537.2,175.5 537.2,166.5 539.9,164.9" fill="#151518" />
<polygon points="544.7,171.1 541.7,172.8 541.7,163.9 544.7,162.2" fill="#1e1e21" />
<polygon points="539.9,162.5 537.2,164.1 537.2,155.1 539.9,153.5" fill="#151518" />
<polygon points="544.7,159.7 541.7,161.5 541.7,152.5 544.7,150.8" fill="#1e1e21" />
<polygon points="539.9,151.1 537.2,152.7 537.2,144.4 539.9,142.8" fill="#151518" />
<polygon points="544.7,148.4 541.7,150.1 541.7,141.8 544.7,140.1" fill="#1e1e21" />
<line x1="546" y1="160.2" x2="535.2" y2="166.4" stroke="#c2c3c8" stroke-width="1.5" />
<line x1="546" y1="148.8" x2="535.2" y2="155.1" stroke="#c2c3c8" stroke-width="1.5" />
<line x1="535.7" y1="177.1" x2="535.7" y2="144.6" stroke="#f6f6f6" stroke-width="1.0" stroke-dasharray="2.5,1.5"/>
<polygon points="536.8,132 546.3,137.4 534.9,144 525.4,138.5" fill="#19191b" stroke="#ffffff" stroke-width="1.3" stroke-linejoin="round" />
<polygon points="578.5,298.2 576.5,299.3 576.5,293.3 578.5,292.2" fill="#bdbdc3" stroke="#85858b" stroke-width="0.5" stroke-linejoin="round" />
<polygon points="573.5,297.6 576.5,299.3 576.5,293.3 573.5,291.6" fill="#a8a8ae" stroke="#85858b" stroke-width="0.5" stroke-linejoin="round" />
<polygon points="575.5,290.4 578.5,292.2 576.5,293.3 573.5,291.6" fill="#b4b4ba" stroke="#85858b" stroke-width="0.5" stroke-linejoin="round" />
<polygon points="578.5,233.2 576.5,234.3 576.5,228.3 578.5,227.2" fill="#bdbdc3" stroke="#85858b" stroke-width="0.5" stroke-linejoin="round" />
<polygon points="573.5,232.6 576.5,234.3 576.5,228.3 573.5,226.6" fill="#a8a8ae" stroke="#85858b" stroke-width="0.5" stroke-linejoin="round" />
<polygon points="575.5,225.4 578.5,227.2 576.5,228.3 573.5,226.6" fill="#b4b4ba" stroke="#85858b" stroke-width="0.5" stroke-linejoin="round" />
<polygon points="578.5,175.7 576.5,176.8 576.5,170.8 578.5,169.7" fill="#bdbdc3" stroke="#85858b" stroke-width="0.5" stroke-linejoin="round" />
<polygon points="573.5,175.1 576.5,176.8 576.5,170.8 573.5,169.1" fill="#a8a8ae" stroke="#85858b" stroke-width="0.5" stroke-linejoin="round" />
<polygon points="575.5,167.9 578.5,169.7 576.5,170.8 573.5,169.1" fill="#b4b4ba" stroke="#85858b" stroke-width="0.5" stroke-linejoin="round" />
<line x1="578.5" y1="296.2" x2="578.5" y2="112.2" stroke="#77777d" stroke-width="1.3" />
<line x1="572.5" y1="295" x2="572.5" y2="169.5" stroke="#9a9aa0" stroke-width="0.9" />

<g fill="none" stroke="#6e73c6" stroke-width="2.4">
<path d="M273,85.5 H418 Q431,85.5 431,98 V148"/>
<path d="M226,304 V248 Q226,233 241,233 H368"/>
<path d="M415,298 V418 Q415,433.2 400,433.2 H331"/>
<path d="M485,322 V420 Q485,435.5 500,435.5 H561"/>
</g>
<circle cx="272.8" cy="85.5" r="3.6" fill="#7a7fcc"/>
<circle cx="226" cy="304.4" r="3.6" fill="#7a7fcc"/>
<circle cx="331.4" cy="433.2" r="3.6" fill="#7a7fcc"/>
<circle cx="561.3" cy="435.5" r="3.6" fill="#7a7fcc"/>
<polyline points="596.3,35.6 606.3,48.1 620.6,50" fill="none" stroke="#222" stroke-width="1.4"/>

<ellipse cx="265" cy="199" rx="36" ry="3" fill="#f5f5f5"/>
<polygon points="193.0,157.0 248.2,174.8 245.0,199.2 192.2,179.7" fill="#1b1b1d" stroke="#1b1b1d" stroke-width="0.6"/>
<polygon points="193.0,157.0 240.0,147.2 297.0,164.2 248.2,174.8" fill="#242426" stroke="#242426" stroke-width="0.6"/>
<polygon points="205.0,156.0 238.0,149.5 284.0,163.0 250.0,170.0" fill="#2a2a2c" />
<polygon points="248.2,174.8 297.0,164.2 299.4,187.0 245.0,199.2" fill="#101012" />
<polygon points="190.5,163.0 193.0,162.0 192.6,172.0 190.2,171.0" fill="#3a3a3a" />
<polygon points="291.5,166.0 298.5,169.8 298.5,178.3 291.5,174.5" fill="#2459c2" />
<polygon points="291.5,166.0 299.5,163.8 306.0,167.6 298.5,169.8" fill="#3d86ea" />
<polygon points="298.5,169.8 306.0,167.6 306.0,176.1 298.5,178.3" fill="#1d4aa6" />
<polygon points="299.5,170.2 305.0,168.6 305.0,175.4 299.5,177.0" fill="#efede6" />
<circle cx="302.3" cy="171.2" r="0.7" fill="#a89a70"/>
<circle cx="302.3" cy="174.6" r="0.7" fill="#a89a70"/>
<polygon points="283.0,167.9 290.0,171.7 290.0,180.2 283.0,176.4" fill="#2459c2" />
<polygon points="283.0,167.9 291.0,165.7 297.5,169.5 290.0,171.7" fill="#3d86ea" />
<polygon points="290.0,171.7 297.5,169.5 297.5,178.0 290.0,180.2" fill="#1d4aa6" />
<polygon points="291.0,172.1 296.5,170.5 296.5,177.3 291.0,178.9" fill="#efede6" />
<circle cx="293.8" cy="173.1" r="0.7" fill="#a89a70"/>
<circle cx="293.8" cy="176.5" r="0.7" fill="#a89a70"/>
<polygon points="274.5,169.8 281.5,173.6 281.5,182.1 274.5,178.3" fill="#2459c2" />
<polygon points="274.5,169.8 282.5,167.6 289.0,171.4 281.5,173.6" fill="#3d86ea" />
<polygon points="281.5,173.6 289.0,171.4 289.0,179.9 281.5,182.1" fill="#1d4aa6" />
<polygon points="282.5,174.0 288.0,172.4 288.0,179.2 282.5,180.8" fill="#efede6" />
<circle cx="285.3" cy="175.0" r="0.7" fill="#a89a70"/>
<circle cx="285.3" cy="178.4" r="0.7" fill="#a89a70"/>
<polygon points="266.0,171.7 273.0,175.5 273.0,184.0 266.0,180.2" fill="#2459c2" />
<polygon points="266.0,171.7 274.0,169.5 280.5,173.3 273.0,175.5" fill="#3d86ea" />
<polygon points="273.0,175.5 280.5,173.3 280.5,181.8 273.0,184.0" fill="#1d4aa6" />
<polygon points="274.0,175.9 279.5,174.3 279.5,181.1 274.0,182.7" fill="#efede6" />
<circle cx="276.8" cy="176.9" r="0.7" fill="#a89a70"/>
<circle cx="276.8" cy="180.3" r="0.7" fill="#a89a70"/>
<polygon points="257.5,173.6 264.5,177.4 264.5,185.9 257.5,182.1" fill="#2459c2" />
<polygon points="257.5,173.6 265.5,171.4 272.0,175.2 264.5,177.4" fill="#3d86ea" />
<polygon points="264.5,177.4 272.0,175.2 272.0,183.7 264.5,185.9" fill="#1d4aa6" />
<polygon points="265.5,177.8 271.0,176.2 271.0,183.0 265.5,184.6" fill="#efede6" />
<circle cx="268.3" cy="178.8" r="0.7" fill="#a89a70"/>
<circle cx="268.3" cy="182.2" r="0.7" fill="#a89a70"/>
<polygon points="249.0,175.5 256.0,179.3 256.0,187.8 249.0,184.0" fill="#2459c2" />
<polygon points="249.0,175.5 257.0,173.3 263.5,177.1 256.0,179.3" fill="#3d86ea" />
<polygon points="256.0,179.3 263.5,177.1 263.5,185.6 256.0,187.8" fill="#1d4aa6" />
<polygon points="257.0,179.7 262.5,178.1 262.5,184.9 257.0,186.5" fill="#efede6" />
<circle cx="259.8" cy="180.7" r="0.7" fill="#a89a70"/>
<circle cx="259.8" cy="184.1" r="0.7" fill="#a89a70"/>
<polygon points="291.5,177.5 298.5,181.3 298.5,189.8 291.5,186.0" fill="#2459c2" />
<polygon points="291.5,177.5 299.5,175.3 306.0,179.1 298.5,181.3" fill="#3d86ea" />
<polygon points="298.5,181.3 306.0,179.1 306.0,187.6 298.5,189.8" fill="#1d4aa6" />
<polygon points="299.5,181.7 305.0,180.1 305.0,186.9 299.5,188.5" fill="#efede6" />
<circle cx="302.3" cy="182.7" r="0.7" fill="#a89a70"/>
<circle cx="302.3" cy="186.1" r="0.7" fill="#a89a70"/>
<polygon points="283.0,179.4 290.0,183.2 290.0,191.7 283.0,187.9" fill="#2459c2" />
<polygon points="283.0,179.4 291.0,177.2 297.5,181.0 290.0,183.2" fill="#3d86ea" />
<polygon points="290.0,183.2 297.5,181.0 297.5,189.5 290.0,191.7" fill="#1d4aa6" />
<polygon points="291.0,183.6 296.5,182.0 296.5,188.8 291.0,190.4" fill="#efede6" />
<circle cx="293.8" cy="184.6" r="0.7" fill="#a89a70"/>
<circle cx="293.8" cy="188.0" r="0.7" fill="#a89a70"/>
<polygon points="274.5,181.3 281.5,185.1 281.5,193.6 274.5,189.8" fill="#2459c2" />
<polygon points="274.5,181.3 282.5,179.1 289.0,182.9 281.5,185.1" fill="#3d86ea" />
<polygon points="281.5,185.1 289.0,182.9 289.0,191.4 281.5,193.6" fill="#1d4aa6" />
<polygon points="282.5,185.5 288.0,183.9 288.0,190.7 282.5,192.3" fill="#efede6" />
<circle cx="285.3" cy="186.5" r="0.7" fill="#a89a70"/>
<circle cx="285.3" cy="189.9" r="0.7" fill="#a89a70"/>
<polygon points="266.0,183.2 273.0,187.0 273.0,195.5 266.0,191.7" fill="#2459c2" />
<polygon points="266.0,183.2 274.0,181.0 280.5,184.8 273.0,187.0" fill="#3d86ea" />
<polygon points="273.0,187.0 280.5,184.8 280.5,193.3 273.0,195.5" fill="#1d4aa6" />
<polygon points="274.0,187.4 279.5,185.8 279.5,192.6 274.0,194.2" fill="#efede6" />
<circle cx="276.8" cy="188.4" r="0.7" fill="#a89a70"/>
<circle cx="276.8" cy="191.8" r="0.7" fill="#a89a70"/>
<polygon points="257.5,185.1 264.5,188.9 264.5,197.4 257.5,193.6" fill="#2459c2" />
<polygon points="257.5,185.1 265.5,182.9 272.0,186.7 264.5,188.9" fill="#3d86ea" />
<polygon points="264.5,188.9 272.0,186.7 272.0,195.2 264.5,197.4" fill="#1d4aa6" />
<polygon points="265.5,189.3 271.0,187.7 271.0,194.5 265.5,196.1" fill="#efede6" />
<circle cx="268.3" cy="190.3" r="0.7" fill="#a89a70"/>
<circle cx="268.3" cy="193.7" r="0.7" fill="#a89a70"/>
<polygon points="249.0,187.0 256.0,190.8 256.0,199.3 249.0,195.5" fill="#2459c2" />
<polygon points="249.0,187.0 257.0,184.8 263.5,188.6 256.0,190.8" fill="#3d86ea" />
<polygon points="256.0,190.8 263.5,188.6 263.5,197.1 256.0,199.3" fill="#1d4aa6" />
<polygon points="257.0,191.2 262.5,189.6 262.5,196.4 257.0,198.0" fill="#efede6" />
<circle cx="259.8" cy="192.2" r="0.7" fill="#a89a70"/>
<circle cx="259.8" cy="195.6" r="0.7" fill="#a89a70"/>
<ellipse cx="151.8" cy="291.8" rx="57.8" ry="24.6" fill="none" stroke="#e6b020" stroke-width="1.4" transform="rotate(2 151.6 292)"/>
<ellipse cx="152.2" cy="292.5" rx="56.3" ry="23.4" fill="none" stroke="#f6d24a" stroke-width="1.4" transform="rotate(2 151.6 292)"/>
<ellipse cx="152.6" cy="293.2" rx="54.8" ry="22.2" fill="none" stroke="#edbd32" stroke-width="1.4" transform="rotate(2 151.6 292)"/>
<ellipse cx="153.0" cy="293.9" rx="53.3" ry="21.0" fill="none" stroke="#f9df6a" stroke-width="1.4" transform="rotate(2 151.6 292)"/>
<ellipse cx="153.4" cy="294.6" rx="51.8" ry="19.8" fill="none" stroke="#e8b528" stroke-width="1.4" transform="rotate(2 151.6 292)"/>
<ellipse cx="153.8" cy="295.3" rx="50.3" ry="18.6" fill="none" stroke="#f2c842" stroke-width="1.4" transform="rotate(2 151.6 292)"/>
<polygon points="113.0,314.0 136.0,316.0 136.0,318.5 113.0,320.5" fill="#262626" />
<polygon points="166.0,316.5 189.0,312.5 189.0,318.5 166.0,319.0" fill="#262626" />
<rect x="96.8" y="312.4" width="18.6" height="8.6" rx="3" fill="#1c1c1c"/>
<rect x="102" y="312.4" width="10.6" height="8.6" fill="#2bb24c"/>
<rect x="186" y="311.2" width="18.8" height="8.4" rx="3" fill="#1c1c1c"/>
<rect x="188.8" y="311.2" width="8.6" height="8.4" fill="#2bb24c"/>
<ellipse cx="268" cy="518" rx="38" ry="6" fill="#f6f6f6"/>
<polygon points="183.5,486.6 187.8,470.2 196.4,472.0 255.5,445.2 302.2,470.2 302.2,490.0 247.0,523.0 240.4,526.4" fill="#141416" />
<polygon points="199.0,475.0 255.5,449.5 298.0,472.0 244.0,503.0" fill="#1d1d1f" />
<circle cx="211" cy="470" r="0.9" fill="#ddd"/><circle cx="278" cy="460.5" r="0.9" fill="#ddd"/>
<ellipse cx="263.0" cy="475.0" rx="19.0" ry="9.5" fill="none" stroke="#d23a2a" stroke-width="0.75" transform="rotate(-24 263.0 475.0)"/>
<ellipse cx="263.7" cy="475.6" rx="20.0" ry="10.1" fill="none" stroke="#e8892a" stroke-width="0.75" transform="rotate(-24 263.7 475.6)"/>
<ellipse cx="264.4" cy="476.2" rx="21.0" ry="10.6" fill="none" stroke="#3b7fd8" stroke-width="0.75" transform="rotate(-24 264.4 476.2)"/>
<ellipse cx="265.1" cy="476.8" rx="22.0" ry="11.2" fill="none" stroke="#2faa55" stroke-width="0.75" transform="rotate(-24 265.1 476.8)"/>
<ellipse cx="265.8" cy="477.4" rx="23.0" ry="11.7" fill="none" stroke="#9a4fb8" stroke-width="0.75" transform="rotate(-24 265.8 477.4)"/>
<ellipse cx="266.5" cy="478.0" rx="24.0" ry="12.2" fill="none" stroke="#d9b21c" stroke-width="0.75" transform="rotate(-24 266.5 478.0)"/>
<ellipse cx="267.2" cy="478.6" rx="25.0" ry="12.8" fill="none" stroke="#1aa39a" stroke-width="0.75" transform="rotate(-24 267.2 478.6)"/>
<ellipse cx="267.9" cy="479.2" rx="26.0" ry="13.4" fill="none" stroke="#b8452e" stroke-width="0.75" transform="rotate(-24 267.9 479.2)"/>
<ellipse cx="268.6" cy="479.8" rx="27.0" ry="13.9" fill="none" stroke="#6aa83a" stroke-width="0.75" transform="rotate(-24 268.6 479.8)"/>
<path d="M212.0,479.0 Q232.0,474.0 246.0,484.0" fill="none" stroke="#d23a2a" stroke-width="0.7"/>
<path d="M215.5,481.6 Q234.5,476.2 248.0,485.2" fill="none" stroke="#e8892a" stroke-width="0.7"/>
<path d="M219.0,484.2 Q237.0,478.4 250.0,486.4" fill="none" stroke="#3b7fd8" stroke-width="0.7"/>
<path d="M222.5,486.8 Q239.5,480.6 252.0,487.6" fill="none" stroke="#2faa55" stroke-width="0.7"/>
<path d="M226.0,489.4 Q242.0,482.8 254.0,488.8" fill="none" stroke="#9a4fb8" stroke-width="0.7"/>
<path d="M229.5,492.0 Q244.5,485.0 256.0,490.0" fill="none" stroke="#d9b21c" stroke-width="0.7"/>
<path d="M233.0,494.6 Q247.0,487.2 258.0,491.2" fill="none" stroke="#1aa39a" stroke-width="0.7"/>
<line x1="201.0" y1="481.0" x2="210.0" y2="477.5" stroke="#e9e2d6" stroke-width="1.8"/>
<line x1="203.0" y1="484.0" x2="212.0" y2="480.5" stroke="#d8cfc0" stroke-width="1.4"/>
<line x1="208.1" y1="485.5" x2="217.1" y2="482.0" stroke="#e9e2d6" stroke-width="1.8"/>
<line x1="210.1" y1="488.5" x2="219.1" y2="485.0" stroke="#d8cfc0" stroke-width="1.4"/>
<line x1="215.2" y1="490.0" x2="224.2" y2="486.5" stroke="#e9e2d6" stroke-width="1.8"/>
<line x1="217.2" y1="493.0" x2="226.2" y2="489.5" stroke="#d8cfc0" stroke-width="1.4"/>
<line x1="222.3" y1="494.5" x2="231.3" y2="491.0" stroke="#e9e2d6" stroke-width="1.8"/>
<line x1="224.3" y1="497.5" x2="233.3" y2="494.0" stroke="#d8cfc0" stroke-width="1.4"/>
<line x1="229.4" y1="499.0" x2="238.4" y2="495.5" stroke="#e9e2d6" stroke-width="1.8"/>
<line x1="231.4" y1="502.0" x2="240.4" y2="498.5" stroke="#d8cfc0" stroke-width="1.4"/>
<line x1="236.5" y1="503.5" x2="245.5" y2="500.0" stroke="#e9e2d6" stroke-width="1.8"/>
<line x1="238.5" y1="506.5" x2="247.5" y2="503.0" stroke="#d8cfc0" stroke-width="1.4"/>
<polygon points="281.5,475.0 290.0,472.5 291.0,476.0 282.5,478.5" fill="#f2b20a" />
<polygon points="246.0,506.0 302.2,471.5 302.2,490.0 247.0,523.0" fill="#19191b" />
<line x1="246" y1="506" x2="302.2" y2="471.5" stroke="#3a3a3c" stroke-width="0.8"/>
<polygon points="188.0,470.5 246.5,505.0 240.0,526.4 232.3,525.0 183.3,484.6" fill="#0e0e10" />
<polygon points="186.5,486.8 194.2,480.3 199.6,483.5 199.6,491.2 192.0,496.6 189.8,496.6" fill="#5ac4da" />
<polygon points="186.5,486.8 194.2,480.3 199.6,483.5 192.0,489.5" fill="#7fd3e4" />
<circle cx="194.4" cy="481.2" r="2.3" fill="#5ac4da"/><circle cx="194.4" cy="481.2" r="0.9" fill="#1b3a44"/>
<polygon points="185.0,488.5 189.8,490.0 189.8,497.2 185.0,495.7" fill="#f3e9e9" />
<rect x="186.3" y="491.0" width="1.2" height="1.2" fill="#c9a0a0"/><rect x="186.3" y="494.2" width="1.2" height="1.2" fill="#c9a0a0"/>
<polygon points="193.2,491.4 200.9,484.9 206.3,488.1 206.3,495.8 198.8,501.2 196.6,501.2" fill="#5ac4da" />
<polygon points="193.2,491.4 200.9,484.9 206.3,488.1 198.8,494.1" fill="#7fd3e4" />
<circle cx="201.2" cy="485.8" r="2.3" fill="#5ac4da"/><circle cx="201.2" cy="485.8" r="0.9" fill="#1b3a44"/>
<polygon points="191.8,493.1 196.6,494.6 196.6,501.8 191.8,500.3" fill="#f3e9e9" />
<rect x="193.1" y="495.6" width="1.2" height="1.2" fill="#c9a0a0"/><rect x="193.1" y="498.8" width="1.2" height="1.2" fill="#c9a0a0"/>
<polygon points="200.0,496.0 207.7,489.5 213.1,492.7 213.1,500.4 205.5,505.8 203.3,505.8" fill="#5ac4da" />
<polygon points="200.0,496.0 207.7,489.5 213.1,492.7 205.5,498.7" fill="#7fd3e4" />
<circle cx="207.9" cy="490.4" r="2.3" fill="#5ac4da"/><circle cx="207.9" cy="490.4" r="0.9" fill="#1b3a44"/>
<polygon points="198.5,497.7 203.3,499.2 203.3,506.4 198.5,504.9" fill="#f3e9e9" />
<rect x="199.8" y="500.2" width="1.2" height="1.2" fill="#c9a0a0"/><rect x="199.8" y="503.4" width="1.2" height="1.2" fill="#c9a0a0"/>
<polygon points="206.8,500.6 214.4,494.1 219.8,497.3 219.8,505.0 212.2,510.4 210.1,510.4" fill="#5ac4da" />
<polygon points="206.8,500.6 214.4,494.1 219.8,497.3 212.2,503.3" fill="#7fd3e4" />
<circle cx="214.7" cy="495.0" r="2.3" fill="#5ac4da"/><circle cx="214.7" cy="495.0" r="0.9" fill="#1b3a44"/>
<polygon points="205.2,502.3 210.1,503.8 210.1,511.0 205.2,509.5" fill="#f3e9e9" />
<rect x="206.6" y="504.8" width="1.2" height="1.2" fill="#c9a0a0"/><rect x="206.6" y="508.0" width="1.2" height="1.2" fill="#c9a0a0"/>
<polygon points="213.5,505.2 221.2,498.7 226.6,501.9 226.6,509.6 219.0,515.0 216.8,515.0" fill="#5ac4da" />
<polygon points="213.5,505.2 221.2,498.7 226.6,501.9 219.0,507.9" fill="#7fd3e4" />
<circle cx="221.4" cy="499.6" r="2.3" fill="#5ac4da"/><circle cx="221.4" cy="499.6" r="0.9" fill="#1b3a44"/>
<polygon points="212.0,506.9 216.8,508.4 216.8,515.6 212.0,514.1" fill="#f3e9e9" />
<rect x="213.3" y="509.4" width="1.2" height="1.2" fill="#c9a0a0"/><rect x="213.3" y="512.6" width="1.2" height="1.2" fill="#c9a0a0"/>
<polygon points="220.2,509.8 227.9,503.3 233.3,506.5 233.3,514.2 225.8,519.6 223.6,519.6" fill="#5ac4da" />
<polygon points="220.2,509.8 227.9,503.3 233.3,506.5 225.8,512.5" fill="#7fd3e4" />
<circle cx="228.2" cy="504.2" r="2.3" fill="#5ac4da"/><circle cx="228.2" cy="504.2" r="0.9" fill="#1b3a44"/>
<polygon points="218.8,511.5 223.6,513.0 223.6,520.2 218.8,518.7" fill="#f3e9e9" />
<rect x="220.1" y="514.0" width="1.2" height="1.2" fill="#c9a0a0"/><rect x="220.1" y="517.2" width="1.2" height="1.2" fill="#c9a0a0"/>
<polygon points="496.0,504.6 636.0,483.5 642.0,488.5 636.0,494.5 508.0,515.0 502.0,513.5" fill="#151517" />
<polygon points="496.0,504.6 636.0,483.5 639.0,486.0 500.0,507.3" fill="#333336" />
<circle cx="500" cy="507" r="0.9" fill="#e0e0e0"/><circle cx="504.5" cy="511.8" r="0.9" fill="#e0e0e0"/>
<polygon points="508.0,501.5 516.0,500.2 516.0,509.2 508.0,510.5" fill="#2a60d0" />
<polygon points="516.0,500.2 517.8,499.2 517.8,508.2 516.0,509.2" fill="#1a46a6" />
<polygon points="508.6,501.4 516.0,500.2 516.3,496.4 508.9,497.6" fill="#e9e9ef" />
<polygon points="508.9,497.6 516.3,496.4 518.0,495.4 510.6,496.6" fill="#fbfbfd" />
<polygon points="516.3,496.4 518.0,495.4 517.8,499.2 516.0,500.2" fill="#c4c4cc" />
<rect x="509.5" y="503.5" width="2.2" height="2.6" fill="#6b97e6"/>
<rect x="512.8" y="503.0" width="2.2" height="2.6" fill="#6b97e6"/>
<polygon points="518.6,499.9 526.6,498.6 526.6,507.6 518.6,508.9" fill="#2a60d0" />
<polygon points="526.6,498.6 528.4,497.6 528.4,506.6 526.6,507.6" fill="#1a46a6" />
<polygon points="519.2,499.8 526.6,498.6 526.9,494.8 519.5,496.0" fill="#e9e9ef" />
<polygon points="519.5,496.0 526.9,494.8 528.6,493.8 521.2,495.0" fill="#fbfbfd" />
<polygon points="526.9,494.8 528.6,493.8 528.4,497.6 526.6,498.6" fill="#c4c4cc" />
<rect x="520.1" y="501.9" width="2.2" height="2.6" fill="#6b97e6"/>
<rect x="523.4" y="501.4" width="2.2" height="2.6" fill="#6b97e6"/>
<polygon points="529.3,498.2 537.3,496.9 537.3,505.9 529.3,507.2" fill="#2a60d0" />
<polygon points="537.3,496.9 539.1,495.9 539.1,504.9 537.3,505.9" fill="#1a46a6" />
<polygon points="529.9,498.1 537.3,496.9 537.6,493.1 530.2,494.3" fill="#e9e9ef" />
<polygon points="530.2,494.3 537.6,493.1 539.3,492.1 531.9,493.3" fill="#fbfbfd" />
<polygon points="537.6,493.1 539.3,492.1 539.1,495.9 537.3,496.9" fill="#c4c4cc" />
<rect x="530.8" y="500.2" width="2.2" height="2.6" fill="#6b97e6"/>
<rect x="534.1" y="499.7" width="2.2" height="2.6" fill="#6b97e6"/>
<polygon points="540.0,496.6 548.0,495.2 548.0,504.2 540.0,505.6" fill="#2a60d0" />
<polygon points="548.0,495.2 549.8,494.2 549.8,503.2 548.0,504.2" fill="#1a46a6" />
<polygon points="540.6,496.4 548.0,495.2 548.2,491.4 540.9,492.7" fill="#e9e9ef" />
<polygon points="540.9,492.7 548.2,491.4 550.0,490.4 542.6,491.7" fill="#fbfbfd" />
<polygon points="548.2,491.4 550.0,490.4 549.8,494.2 548.0,495.2" fill="#c4c4cc" />
<rect x="541.5" y="498.6" width="2.2" height="2.6" fill="#6b97e6"/>
<rect x="544.8" y="498.1" width="2.2" height="2.6" fill="#6b97e6"/>
<polygon points="550.6,494.9 558.6,493.6 558.6,502.6 550.6,503.9" fill="#2a60d0" />
<polygon points="558.6,493.6 560.4,492.6 560.4,501.6 558.6,502.6" fill="#1a46a6" />
<polygon points="551.2,494.8 558.6,493.6 558.9,489.8 551.5,491.0" fill="#e9e9ef" />
<polygon points="551.5,491.0 558.9,489.8 560.6,488.8 553.2,490.0" fill="#fbfbfd" />
<polygon points="558.9,489.8 560.6,488.8 560.4,492.6 558.6,493.6" fill="#c4c4cc" />
<rect x="552.1" y="496.9" width="2.2" height="2.6" fill="#6b97e6"/>
<rect x="555.4" y="496.4" width="2.2" height="2.6" fill="#6b97e6"/>
<polygon points="561.2,493.2 569.2,491.9 569.2,500.9 561.2,502.2" fill="#2a60d0" />
<polygon points="569.2,491.9 571.0,490.9 571.0,499.9 569.2,500.9" fill="#1a46a6" />
<polygon points="561.9,493.1 569.2,491.9 569.5,488.1 562.1,489.4" fill="#e9e9ef" />
<polygon points="562.1,489.4 569.5,488.1 571.2,487.1 563.9,488.4" fill="#fbfbfd" />
<polygon points="569.5,488.1 571.2,487.1 571.0,490.9 569.2,491.9" fill="#c4c4cc" />
<rect x="562.8" y="495.2" width="2.2" height="2.6" fill="#6b97e6"/>
<rect x="566.0" y="494.8" width="2.2" height="2.6" fill="#6b97e6"/>
<polygon points="571.9,491.6 579.9,490.3 579.9,499.3 571.9,500.6" fill="#2a60d0" />
<polygon points="579.9,490.3 581.7,489.3 581.7,498.3 579.9,499.3" fill="#1a46a6" />
<polygon points="572.5,491.5 579.9,490.3 580.2,486.5 572.8,487.7" fill="#e9e9ef" />
<polygon points="572.8,487.7 580.2,486.5 581.9,485.5 574.5,486.7" fill="#fbfbfd" />
<polygon points="580.2,486.5 581.9,485.5 581.7,489.3 579.9,490.3" fill="#c4c4cc" />
<rect x="573.4" y="493.6" width="2.2" height="2.6" fill="#6b97e6"/>
<rect x="576.7" y="493.1" width="2.2" height="2.6" fill="#6b97e6"/>
<polygon points="582.5,489.9 590.5,488.6 590.5,497.6 582.5,498.9" fill="#2a60d0" />
<polygon points="590.5,488.6 592.3,487.6 592.3,496.6 590.5,497.6" fill="#1a46a6" />
<polygon points="583.1,489.8 590.5,488.6 590.8,484.8 583.4,486.1" fill="#e9e9ef" />
<polygon points="583.4,486.1 590.8,484.8 592.5,483.8 585.1,485.1" fill="#fbfbfd" />
<polygon points="590.8,484.8 592.5,483.8 592.3,487.6 590.5,488.6" fill="#c4c4cc" />
<rect x="584.0" y="491.9" width="2.2" height="2.6" fill="#6b97e6"/>
<rect x="587.3" y="491.4" width="2.2" height="2.6" fill="#6b97e6"/>
<polygon points="593.2,488.3 601.2,487.0 601.2,496.0 593.2,497.3" fill="#2a60d0" />
<polygon points="601.2,487.0 603.0,486.0 603.0,495.0 601.2,496.0" fill="#1a46a6" />
<polygon points="593.8,488.2 601.2,487.0 601.5,483.2 594.1,484.4" fill="#e9e9ef" />
<polygon points="594.1,484.4 601.5,483.2 603.2,482.2 595.8,483.4" fill="#fbfbfd" />
<polygon points="601.5,483.2 603.2,482.2 603.0,486.0 601.2,487.0" fill="#c4c4cc" />
<rect x="594.7" y="490.3" width="2.2" height="2.6" fill="#6b97e6"/>
<rect x="598.0" y="489.8" width="2.2" height="2.6" fill="#6b97e6"/>
<polygon points="603.9,486.6 611.9,485.3 611.9,494.3 603.9,495.6" fill="#2a60d0" />
<polygon points="611.9,485.3 613.6,484.3 613.6,493.3 611.9,494.3" fill="#1a46a6" />
<polygon points="604.5,486.5 611.9,485.3 612.1,481.5 604.8,482.8" fill="#e9e9ef" />
<polygon points="604.8,482.8 612.1,481.5 613.9,480.5 606.5,481.8" fill="#fbfbfd" />
<polygon points="612.1,481.5 613.9,480.5 613.6,484.3 611.9,485.3" fill="#c4c4cc" />
<rect x="605.4" y="488.6" width="2.2" height="2.6" fill="#6b97e6"/>
<rect x="608.6" y="488.1" width="2.2" height="2.6" fill="#6b97e6"/>
<polygon points="614.5,485.0 622.5,483.7 622.5,492.7 614.5,494.0" fill="#2a60d0" />
<polygon points="622.5,483.7 624.3,482.7 624.3,491.7 622.5,492.7" fill="#1a46a6" />
<polygon points="615.1,484.9 622.5,483.7 622.8,479.9 615.4,481.1" fill="#e9e9ef" />
<polygon points="615.4,481.1 622.8,479.9 624.5,478.9 617.1,480.1" fill="#fbfbfd" />
<polygon points="622.8,479.9 624.5,478.9 624.3,482.7 622.5,483.7" fill="#c4c4cc" />
<rect x="616.0" y="487.0" width="2.2" height="2.6" fill="#6b97e6"/>
<rect x="619.3" y="486.5" width="2.2" height="2.6" fill="#6b97e6"/>
<polygon points="625.1,483.4 633.1,482.1 633.1,491.1 625.1,492.4" fill="#2a60d0" />
<polygon points="633.1,482.1 634.9,481.1 634.9,490.1 633.1,491.1" fill="#1a46a6" />
<polygon points="625.8,483.2 633.1,482.1 633.4,478.2 626.0,479.5" fill="#e9e9ef" />
<polygon points="626.0,479.5 633.4,478.2 635.1,477.2 627.8,478.5" fill="#fbfbfd" />
<polygon points="633.4,478.2 635.1,477.2 634.9,481.1 633.1,482.1" fill="#c4c4cc" />
<rect x="626.6" y="485.4" width="2.2" height="2.6" fill="#6b97e6"/>
<rect x="629.9" y="484.9" width="2.2" height="2.6" fill="#6b97e6"/>
</svg>

<div class="lb" style="left:176px;top:109px;"><span class="lt">MTP/MPO</span>光纤配线盒</div>
<div class="lb" style="left:81px;top:337px;"><span class="lt">MTP/MPO</span>主干光纤跳线</div>
<div class="lb" style="left:257px;top:401px;">预端接光纤配线盒</div>
<div class="lb" style="left:511px;top:456px;">光纤适配器面板</div>
<div class="lb2" style="left:600px;top:16px;">主机托管</div>

</body></html>
